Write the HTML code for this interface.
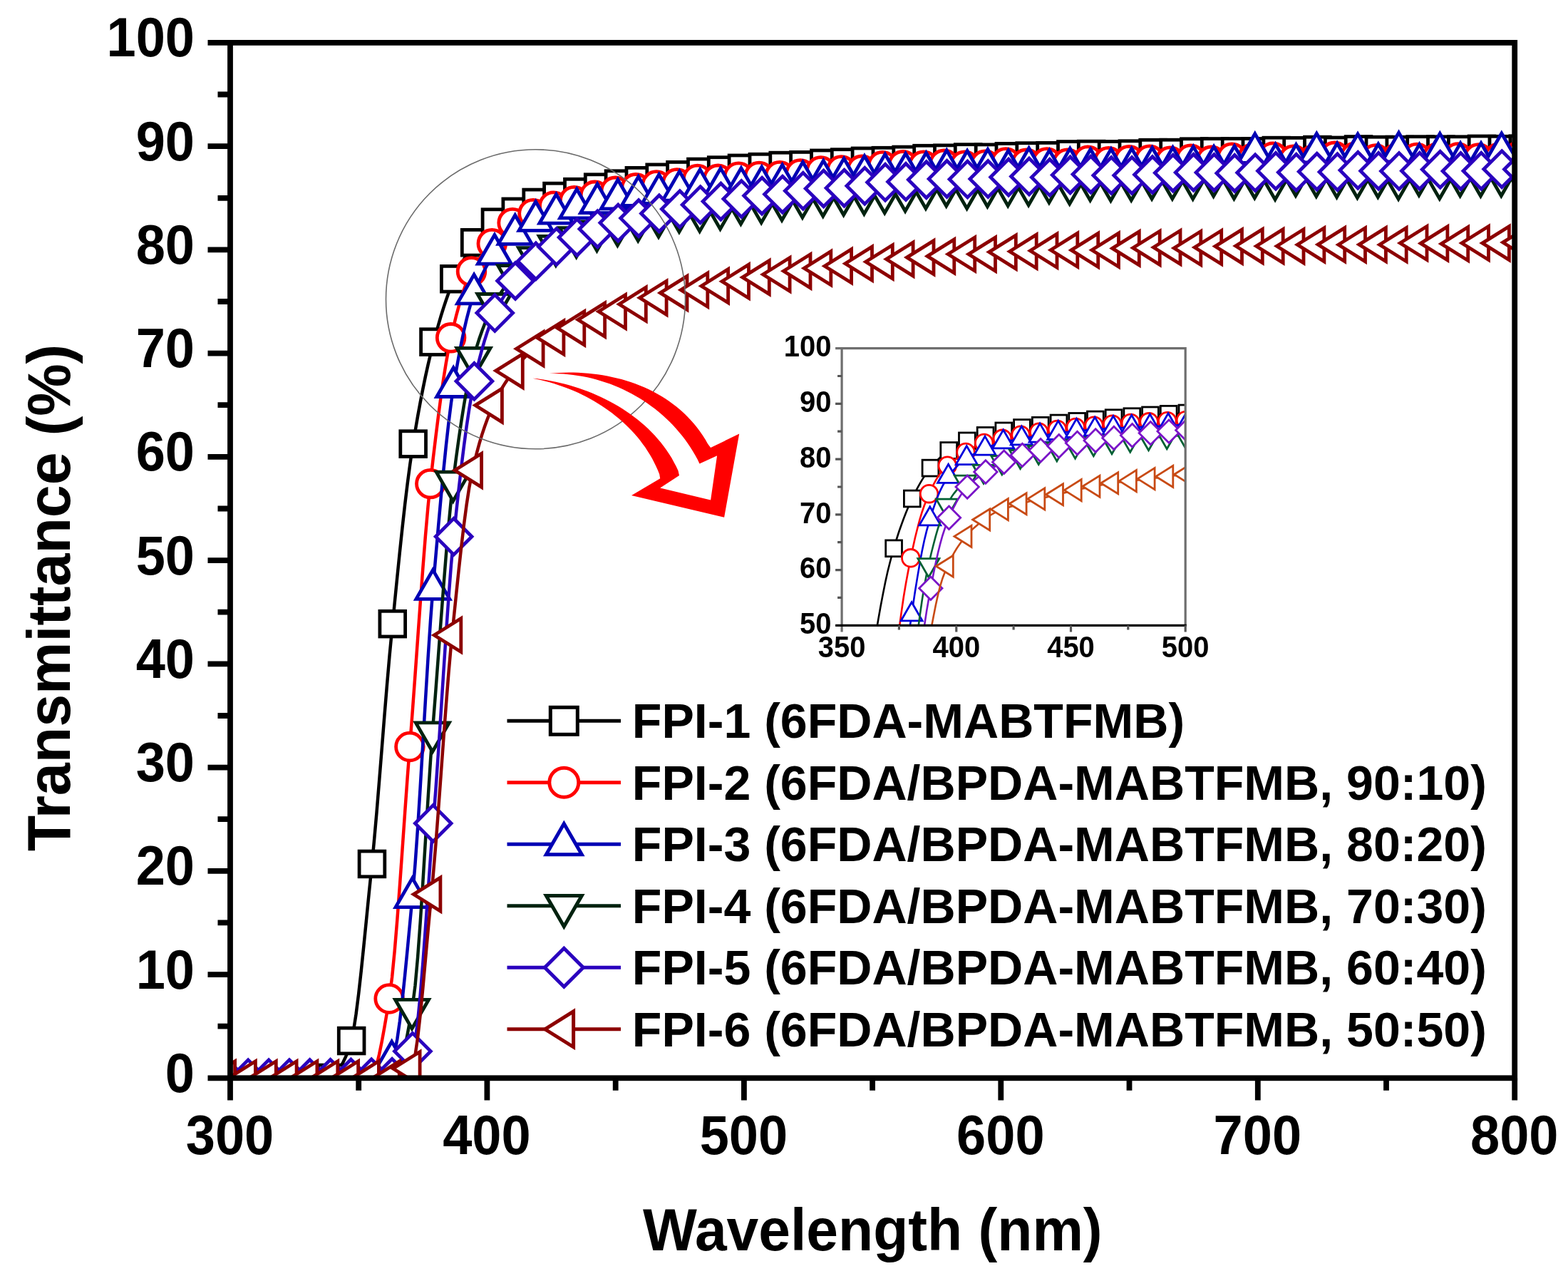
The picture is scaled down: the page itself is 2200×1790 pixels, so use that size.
<!DOCTYPE html>
<html><head><meta charset="utf-8"><title>Transmittance spectra</title>
<style>html,body{margin:0;padding:0;background:#fff;}body{width:2200px;height:1790px;overflow:hidden;}svg{display:block;}</style>
</head><body>
<svg width="2200" height="1790" viewBox="0 0 2200 1790">
<rect width="2200" height="1790" fill="#ffffff"/>
<defs>
<clipPath id="cm"><rect x="323" y="59.9" width="1802.2" height="1452.4"/></clipPath>
<clipPath id="ci"><rect x="1181.1" y="488.6" width="482.1" height="388.7"/></clipPath>
</defs>
<g clip-path="url(#cm)" stroke-linejoin="miter" stroke-miterlimit="10">
<polyline fill="none" stroke="#000000" stroke-width="4.5" points="323,1519.6 326.6,1519.6 330.2,1519.6 333.8,1519.6 337.4,1519.6 341,1519.6 344.6,1519.6 348.2,1519.6 351.8,1519.6 355.4,1519.6 359,1519.6 362.6,1519.6 366.3,1519.6 369.9,1519.6 373.5,1519.6 377.1,1519.6 380.7,1519.6 384.3,1519.6 387.9,1519.6 391.5,1519.6 395.1,1519.6 398.7,1519.6 402.3,1519.6 405.9,1519.6 409.5,1519.6 413.1,1519.6 416.7,1519.6 420.3,1519.6 423.9,1519.6 427.5,1519.6 431.1,1519.6 434.7,1519.6 438.3,1519.4 441.9,1519 445.5,1518.4 449.2,1517.5 452.8,1516.5 456.4,1515.2 460,1513.8 463.6,1512.3 467.2,1510.1 470.8,1506.7 474.4,1502.2 478,1496.5 481.6,1489.8 485.2,1482.1 488.8,1473.4 492.4,1462.9 496,1445.8 499.6,1422.4 503.2,1394 506.8,1361.7 510.4,1326.8 514,1290.7 517.6,1254.4 521.2,1219.2 524.8,1181.3 528.5,1139.8 532.1,1095.8 535.7,1050.7 539.3,1005.5 542.9,961.7 546.5,920.3 550.1,882.6 553.7,845.9 557.3,809.6 560.9,774.2 564.5,740.3 568.1,708.1 571.7,678.3 575.3,651.2 578.9,627.2 582.5,605 586.1,584 589.7,564.3 593.3,545.8 596.9,528.3 600.5,512 604.1,496.7 607.7,482.4 611.4,468.9 615,456 618.6,443.7 622.2,432.2 625.8,421.2 629.4,411 633,401.6 636.6,392.9 640.2,384.9 643.8,377.3 647.4,370.2 651,363.5 654.6,357.2 658.2,351.4 661.8,346 665.4,341.1 669,336.6 672.6,332.4 676.2,328.4 679.8,324.6 683.4,321.1 687,317.8 690.6,314.8 694.3,312.2 697.9,309.8 701.5,307.6 705.1,305.6 708.7,303.8 712.3,302.1 715.9,300.4 719.5,298.8 723.1,297.2 726.7,295.4 730.3,293.7 733.9,292 737.5,290.3 741.1,288.7 744.7,287.1 748.3,285.6 751.9,284.2 755.5,282.9 759.1,281.7 762.7,280.5 766.3,279.3 769.9,278.2 773.5,277.1 777.2,276.1 780.8,275.2 784.4,274.3 788,273.5 791.6,272.8 795.2,272.1 798.8,271.4 802.4,270.7 806,270 809.6,269.3 813.2,268.5 816.8,267.7 820.4,266.8 824,266 827.6,265.2 831.2,264.3 834.8,263.5 838.4,262.8 842,262.1 845.6,261.4 849.2,260.8 852.8,260.2 856.5,259.5 860.1,258.9 863.7,258.4 867.3,257.8 870.9,257.2 874.5,256.6 878.1,256.1 881.7,255.5 885.3,255 888.9,254.4 892.5,253.9 896.1,253.3 899.7,252.8 903.3,252.2 906.9,251.6 910.5,251 914.1,250.4 917.7,249.9 921.3,249.3 924.9,248.8 928.5,248.3 932.1,247.8 954.5,245.3 983.3,240.9 1012.2,238.6 1041,235.8 1069.8,234.1 1098.7,232 1127.5,231.2 1156.3,228.8 1185.2,227.5 1214,225.9 1242.8,225.2 1271.7,224 1300.5,222.2 1329.3,221.8 1358.2,220.6 1387,220.8 1415.9,219.3 1444.7,218.5 1473.5,218.3 1502.4,216.5 1531.2,216.1 1560,216.4 1588.9,215.7 1617.7,214.2 1646.5,214.1 1675.4,212.6 1704.2,212.5 1733,212.4 1761.9,212.4 1790.7,211.1 1819.5,211.2 1848.4,210 1877.2,210.9 1906.1,209.4 1934.9,210 1963.7,210.1 1992.6,209.6 2021.4,209.7 2050.2,209.6 2079.1,208.9 2107.9,209.2 2125.2,208.1 2136.7,208.6"/>
<g fill="#ffffff" stroke="#000000" stroke-width="4.8">
<rect x="302.3" y="1501.7" width="35.7" height="35.7"/>
<rect x="331.1" y="1501.7" width="35.7" height="35.7"/>
<rect x="359.9" y="1501.7" width="35.7" height="35.7"/>
<rect x="388.8" y="1501.7" width="35.7" height="35.7"/>
<rect x="417.6" y="1501.7" width="35.7" height="35.7"/>
<rect x="446.4" y="1494.1" width="35.7" height="35.7"/>
<rect x="475.3" y="1442.2" width="35.7" height="35.7"/>
<rect x="504.1" y="1194.1" width="35.7" height="35.7"/>
<rect x="532.9" y="857.3" width="35.7" height="35.7"/>
<rect x="561.8" y="604.8" width="35.7" height="35.7"/>
<rect x="590.6" y="461.8" width="35.7" height="35.7"/>
<rect x="619.4" y="373.4" width="35.7" height="35.7"/>
<rect x="648.3" y="322.4" width="35.7" height="35.7"/>
<rect x="677.1" y="293.8" width="35.7" height="35.7"/>
<rect x="705.9" y="279" width="35.7" height="35.7"/>
<rect x="734.8" y="266.1" width="35.7" height="35.7"/>
<rect x="763.6" y="257.2" width="35.7" height="35.7"/>
<rect x="792.5" y="251.3" width="35.7" height="35.7"/>
<rect x="821.3" y="244.8" width="35.7" height="35.7"/>
<rect x="850.1" y="239.8" width="35.7" height="35.7"/>
<rect x="879" y="235.4" width="35.7" height="35.7"/>
<rect x="907.8" y="230.9" width="35.7" height="35.7"/>
<rect x="936.6" y="227.4" width="35.7" height="35.7"/>
<rect x="965.5" y="223.1" width="35.7" height="35.7"/>
<rect x="994.3" y="220.7" width="35.7" height="35.7"/>
<rect x="1023.1" y="218" width="35.7" height="35.7"/>
<rect x="1052" y="216.3" width="35.7" height="35.7"/>
<rect x="1080.8" y="214.2" width="35.7" height="35.7"/>
<rect x="1109.6" y="213.4" width="35.7" height="35.7"/>
<rect x="1138.5" y="211" width="35.7" height="35.7"/>
<rect x="1167.3" y="209.7" width="35.7" height="35.7"/>
<rect x="1196.1" y="208" width="35.7" height="35.7"/>
<rect x="1225" y="207.3" width="35.7" height="35.7"/>
<rect x="1253.8" y="206.1" width="35.7" height="35.7"/>
<rect x="1282.7" y="204.3" width="35.7" height="35.7"/>
<rect x="1311.5" y="203.9" width="35.7" height="35.7"/>
<rect x="1340.3" y="202.7" width="35.7" height="35.7"/>
<rect x="1369.2" y="202.9" width="35.7" height="35.7"/>
<rect x="1398" y="201.4" width="35.7" height="35.7"/>
<rect x="1426.8" y="200.7" width="35.7" height="35.7"/>
<rect x="1455.7" y="200.4" width="35.7" height="35.7"/>
<rect x="1484.5" y="198.6" width="35.7" height="35.7"/>
<rect x="1513.3" y="198.2" width="35.7" height="35.7"/>
<rect x="1542.2" y="198.5" width="35.7" height="35.7"/>
<rect x="1571" y="197.8" width="35.7" height="35.7"/>
<rect x="1599.8" y="196.3" width="35.7" height="35.7"/>
<rect x="1628.7" y="196.2" width="35.7" height="35.7"/>
<rect x="1657.5" y="194.8" width="35.7" height="35.7"/>
<rect x="1686.3" y="194.6" width="35.7" height="35.7"/>
<rect x="1715.2" y="194.5" width="35.7" height="35.7"/>
<rect x="1744" y="194.5" width="35.7" height="35.7"/>
<rect x="1772.9" y="193.2" width="35.7" height="35.7"/>
<rect x="1801.7" y="193.4" width="35.7" height="35.7"/>
<rect x="1830.5" y="192.2" width="35.7" height="35.7"/>
<rect x="1859.4" y="193" width="35.7" height="35.7"/>
<rect x="1888.2" y="191.6" width="35.7" height="35.7"/>
<rect x="1917" y="192.2" width="35.7" height="35.7"/>
<rect x="1945.9" y="192.2" width="35.7" height="35.7"/>
<rect x="1974.7" y="191.7" width="35.7" height="35.7"/>
<rect x="2003.5" y="191.8" width="35.7" height="35.7"/>
<rect x="2032.4" y="191.8" width="35.7" height="35.7"/>
<rect x="2061.2" y="191" width="35.7" height="35.7"/>
<rect x="2090" y="191.3" width="35.7" height="35.7"/>
<rect x="2118.9" y="190.8" width="35.7" height="35.7"/>
</g>
<polyline fill="none" stroke="#ff0000" stroke-width="4.5" points="323,1519.6 326.6,1519.6 330.2,1519.6 333.8,1519.6 337.4,1519.6 341,1519.6 344.6,1519.6 348.2,1519.6 351.8,1519.6 355.4,1519.6 359,1519.6 362.6,1519.6 366.3,1519.6 369.9,1519.6 373.5,1519.6 377.1,1519.6 380.7,1519.6 384.3,1519.6 387.9,1519.6 391.5,1519.6 395.1,1519.6 398.7,1519.6 402.3,1519.6 405.9,1519.6 409.5,1519.6 413.1,1519.6 416.7,1519.6 420.3,1519.6 423.9,1519.6 427.5,1519.6 431.1,1519.6 434.7,1519.6 438.3,1519.6 441.9,1519.6 445.5,1519.6 449.2,1519.6 452.8,1519.6 456.4,1519.6 460,1519.6 463.6,1519.6 467.2,1519.6 470.8,1519.6 474.4,1519.6 478,1519.6 481.6,1519.6 485.2,1519.6 488.8,1519.6 492.4,1519.5 496,1519.4 499.6,1519.1 503.2,1518.8 506.8,1518.4 510.4,1517.9 514,1517.3 517.6,1516.7 521.2,1513.5 524.8,1505.7 528.5,1494 532.1,1479 535.7,1461.4 539.3,1441.7 542.9,1420.7 546.5,1398.8 550.1,1370.7 553.7,1334 557.3,1290.6 560.9,1242.5 564.5,1191.7 568.1,1140.2 571.7,1090 575.3,1043 578.9,995.9 582.5,946.5 586.1,896 589.7,845.9 593.3,797.5 596.9,752 600.5,710.9 604.1,675.3 607.7,643.2 611.4,612.6 615,583.7 618.6,556.7 622.2,531.8 625.8,509.3 629.4,489.4 633,472.2 636.6,456.9 640.2,442.5 643.8,429.3 647.4,417.1 651,406.1 654.6,396.2 658.2,387.6 661.8,380.2 665.4,373.8 669,368 672.6,362.8 676.2,358.1 679.8,353.7 683.4,349.5 687,345.4 690.6,341.2 694.3,337 697.9,332.9 701.5,328.8 705.1,324.8 708.7,321.1 712.3,317.8 715.9,314.8 719.5,312.4 723.1,310.3 726.7,308.4 730.3,306.7 733.9,305.1 737.5,303.6 741.1,302.2 744.7,300.8 748.3,299.5 751.9,298.1 755.5,296.7 759.1,295.3 762.7,294 766.3,292.7 769.9,291.4 773.5,290.2 777.2,289 780.8,287.9 784.4,286.9 788,285.9 791.6,285 795.2,284.1 798.8,283.3 802.4,282.4 806,281.6 809.6,280.7 813.2,279.7 816.8,278.8 820.4,277.9 824,276.9 827.6,276 831.2,275.1 834.8,274.2 838.4,273.4 842,272.6 845.6,271.8 849.2,271.1 852.8,270.3 856.5,269.6 860.1,268.9 863.7,268.2 867.3,267.6 870.9,267 874.5,266.4 878.1,265.8 881.7,265.3 885.3,264.7 888.9,264.2 892.5,263.7 896.1,263.2 899.7,262.8 903.3,262.3 906.9,261.8 910.5,261.4 914.1,260.9 917.7,260.4 921.3,260 924.9,259.5 928.5,259.1 932.1,258.6 949.8,256.9 978.6,251.5 1007.5,251.3 1036.3,248.1 1065.1,247.4 1094,246.6 1122.8,243.9 1151.7,239.9 1180.5,239 1209.3,238.3 1238.2,232.7 1267,231.8 1295.8,232.1 1324.7,230.3 1353.5,232.1 1382.3,231.1 1411.2,228 1440,229.3 1468.8,227.9 1497.7,229.1 1526.5,225.1 1555.3,226.6 1584.2,224.6 1613,224.2 1641.8,226.2 1670.7,223.2 1699.5,225.3 1728.4,221.1 1757.2,222.1 1786,220.2 1814.9,224.1 1843.7,223.7 1872.5,219.3 1901.4,220.3 1930.2,222.9 1959,222.5 1987.9,221.4 2016.7,221.1 2045.5,221 2074.4,221.9 2103.2,221.3 2125.2,218 2132,218.5"/>
<g fill="#ffffff" stroke="#ff0000" stroke-width="4.8">
<circle cx="315.4" cy="1519.6" r="19.3"/>
<circle cx="344.3" cy="1519.6" r="19.3"/>
<circle cx="373.1" cy="1519.6" r="19.3"/>
<circle cx="401.9" cy="1519.6" r="19.3"/>
<circle cx="430.8" cy="1519.6" r="19.3"/>
<circle cx="459.6" cy="1519.6" r="19.3"/>
<circle cx="488.4" cy="1519.6" r="19.3"/>
<circle cx="517.3" cy="1516.7" r="19.3"/>
<circle cx="546.1" cy="1401" r="19.3"/>
<circle cx="574.9" cy="1047.5" r="19.3"/>
<circle cx="603.8" cy="678.6" r="19.3"/>
<circle cx="632.6" cy="473.8" r="19.3"/>
<circle cx="661.5" cy="380.9" r="19.3"/>
<circle cx="690.3" cy="341.7" r="19.3"/>
<circle cx="719.1" cy="312.6" r="19.3"/>
<circle cx="748" cy="299.6" r="19.3"/>
<circle cx="776.8" cy="289.1" r="19.3"/>
<circle cx="805.6" cy="281.6" r="19.3"/>
<circle cx="834.5" cy="274.3" r="19.3"/>
<circle cx="863.3" cy="268.3" r="19.3"/>
<circle cx="892.1" cy="263.8" r="19.3"/>
<circle cx="921" cy="260" r="19.3"/>
<circle cx="949.8" cy="256.9" r="19.3"/>
<circle cx="978.6" cy="251.5" r="19.3"/>
<circle cx="1007.5" cy="251.3" r="19.3"/>
<circle cx="1036.3" cy="248.1" r="19.3"/>
<circle cx="1065.1" cy="247.4" r="19.3"/>
<circle cx="1094" cy="246.6" r="19.3"/>
<circle cx="1122.8" cy="243.9" r="19.3"/>
<circle cx="1151.7" cy="239.9" r="19.3"/>
<circle cx="1180.5" cy="239" r="19.3"/>
<circle cx="1209.3" cy="238.3" r="19.3"/>
<circle cx="1238.2" cy="232.7" r="19.3"/>
<circle cx="1267" cy="231.8" r="19.3"/>
<circle cx="1295.8" cy="232.1" r="19.3"/>
<circle cx="1324.7" cy="230.3" r="19.3"/>
<circle cx="1353.5" cy="232.1" r="19.3"/>
<circle cx="1382.3" cy="231.1" r="19.3"/>
<circle cx="1411.2" cy="228" r="19.3"/>
<circle cx="1440" cy="229.3" r="19.3"/>
<circle cx="1468.8" cy="227.9" r="19.3"/>
<circle cx="1497.7" cy="229.1" r="19.3"/>
<circle cx="1526.5" cy="225.1" r="19.3"/>
<circle cx="1555.3" cy="226.6" r="19.3"/>
<circle cx="1584.2" cy="224.6" r="19.3"/>
<circle cx="1613" cy="224.2" r="19.3"/>
<circle cx="1641.8" cy="226.2" r="19.3"/>
<circle cx="1670.7" cy="223.2" r="19.3"/>
<circle cx="1699.5" cy="225.3" r="19.3"/>
<circle cx="1728.4" cy="221.1" r="19.3"/>
<circle cx="1757.2" cy="222.1" r="19.3"/>
<circle cx="1786" cy="220.2" r="19.3"/>
<circle cx="1814.9" cy="224.1" r="19.3"/>
<circle cx="1843.7" cy="223.7" r="19.3"/>
<circle cx="1872.5" cy="219.3" r="19.3"/>
<circle cx="1901.4" cy="220.3" r="19.3"/>
<circle cx="1930.2" cy="222.9" r="19.3"/>
<circle cx="1959" cy="222.5" r="19.3"/>
<circle cx="1987.9" cy="221.4" r="19.3"/>
<circle cx="2016.7" cy="221.1" r="19.3"/>
<circle cx="2045.5" cy="221" r="19.3"/>
<circle cx="2074.4" cy="221.9" r="19.3"/>
<circle cx="2103.2" cy="221.3" r="19.3"/>
<circle cx="2132" cy="218.5" r="19.3"/>
</g>
<polyline fill="none" stroke="#0000b4" stroke-width="4.5" points="323,1519.6 326.6,1519.6 330.2,1519.6 333.8,1519.6 337.4,1519.6 341,1519.6 344.6,1519.6 348.2,1519.6 351.8,1519.5 355.4,1519.5 359,1519.5 362.6,1519.5 366.3,1519.5 369.9,1519.5 373.5,1519.5 377.1,1519.5 380.7,1519.5 384.3,1519.5 387.9,1519.5 391.5,1519.5 395.1,1519.4 398.7,1519.4 402.3,1519.4 405.9,1519.4 409.5,1519.4 413.1,1519.4 416.7,1519.3 420.3,1519.3 423.9,1519.3 427.5,1519.3 431.1,1519.3 434.7,1519.2 438.3,1519.2 441.9,1519.2 445.5,1519.1 449.2,1519.1 452.8,1519.1 456.4,1519 460,1519 463.6,1519 467.2,1518.9 470.8,1518.9 474.4,1518.8 478,1518.8 481.6,1518.7 485.2,1518.7 488.8,1518.7 492.4,1518.6 496,1518.5 499.6,1518.5 503.2,1518.4 506.8,1518.4 510.4,1518.3 514,1518.2 517.6,1518.2 521.2,1518.1 524.8,1517.5 528.5,1515.8 532.1,1513.1 535.7,1509.5 539.3,1505.1 542.9,1499.9 546.5,1494.1 550.1,1487.6 553.7,1476.6 557.3,1457.9 560.9,1432.8 564.5,1402.5 568.1,1368.3 571.7,1331.5 575.3,1293.4 578.9,1255.2 582.5,1212.4 586.1,1161.1 589.7,1104 593.3,1043.7 596.9,982.8 600.5,923.9 604.1,869.5 607.7,822.4 611.4,780.1 615,738.7 618.6,698.8 622.2,661 625.8,625.8 629.4,593.6 633,565 636.6,540.6 640.2,519.2 643.8,499.2 647.4,480.6 651,463.5 654.6,448 658.2,434.1 661.8,421.9 665.4,411.4 669,402.1 672.6,393.6 676.2,385.8 679.8,378.7 683.4,372.2 687,366.4 690.6,361 694.3,356.2 697.9,351.8 701.5,347.8 705.1,344 708.7,340.6 712.3,337.4 715.9,334.3 719.5,331.4 723.1,328.6 726.7,325.8 730.3,323.1 733.9,320.5 737.5,318 741.1,315.7 744.7,313.5 748.3,311.5 751.9,309.7 755.5,308.1 759.1,306.7 762.7,305.3 766.3,304 769.9,302.8 773.5,301.7 777.2,300.6 780.8,299.5 784.4,298.5 788,297.6 791.6,296.6 795.2,295.8 798.8,294.9 802.4,294 806,293.2 809.6,292.3 813.2,291.4 816.8,290.4 820.4,289.5 824,288.6 827.6,287.6 831.2,286.7 834.8,285.9 838.4,285 842,284.2 845.6,283.4 849.2,282.7 852.8,281.9 856.5,281.2 860.1,280.5 863.7,279.9 867.3,279.2 870.9,278.6 874.5,278 878.1,277.4 881.7,276.8 885.3,276.3 888.9,275.8 892.5,275.3 896.1,274.9 899.7,274.4 903.3,274 906.9,273.6 910.5,273.2 914.1,272.8 917.7,272.5 921.3,272.1 924.9,271.8 928.5,271.4 932.1,271.1 953.4,267.6 982.2,264.8 1011.1,263.3 1039.9,262.9 1068.8,261.3 1097.6,258.4 1126.4,254.4 1155.3,252.5 1184.1,249.4 1212.9,245.9 1241.8,243.3 1270.6,242.4 1299.4,241.4 1328.3,238 1357.1,238.6 1385.9,236.6 1414.8,238.2 1443.6,234.9 1472.4,237.8 1501.3,235.5 1530.1,236.5 1558.9,236.1 1587.8,235.4 1616.6,234.1 1645.5,233.9 1674.3,232.8 1703.1,232.6 1732,231.8 1760.8,214.7 1789.6,229.5 1818.5,229.8 1847.3,214.4 1876.1,228.1 1905,215.2 1933.8,229.1 1962.6,213.2 1991.5,229.8 2020.3,214.6 2049.1,228 2078,227.8 2106.8,214.2 2125.2,227.2 2135.7,228.4"/>
<g fill="#ffffff" stroke="#0000b4" stroke-width="4.8">
<polygon points="319,1492.4 342.5,1533.1 295.5,1533.1"/>
<polygon points="347.9,1492.4 371.4,1533.1 324.4,1533.1"/>
<polygon points="376.7,1492.4 400.2,1533.1 353.2,1533.1"/>
<polygon points="405.5,1492.3 429,1533 382,1533"/>
<polygon points="434.4,1492.1 457.9,1532.8 410.9,1532.8"/>
<polygon points="463.2,1491.8 486.7,1532.5 439.7,1532.5"/>
<polygon points="492,1491.5 515.5,1532.2 468.5,1532.2"/>
<polygon points="520.9,1491 544.4,1531.7 497.4,1531.7"/>
<polygon points="549.7,1461.1 573.2,1501.8 526.2,1501.8"/>
<polygon points="578.6,1231.9 602.1,1272.6 555.1,1272.6"/>
<polygon points="607.4,799.6 630.9,840.3 583.9,840.3"/>
<polygon points="636.2,515.7 659.7,556.5 612.7,556.5"/>
<polygon points="665.1,385.2 688.6,425.9 641.6,425.9"/>
<polygon points="693.9,329.5 717.4,370.2 670.4,370.2"/>
<polygon points="722.7,301.7 746.2,342.4 699.2,342.4"/>
<polygon points="751.6,282.7 775.1,323.4 728.1,323.4"/>
<polygon points="780.4,272.5 803.9,313.2 756.9,313.2"/>
<polygon points="809.2,265.2 832.7,305.9 785.7,305.9"/>
<polygon points="838.1,258 861.6,298.7 814.6,298.7"/>
<polygon points="866.9,252.1 890.4,292.8 843.4,292.8"/>
<polygon points="895.7,247.8 919.2,288.5 872.2,288.5"/>
<polygon points="924.6,244.7 948.1,285.4 901.1,285.4"/>
<polygon points="953.4,240.4 976.9,281.1 929.9,281.1"/>
<polygon points="982.2,237.7 1005.7,278.4 958.7,278.4"/>
<polygon points="1011.1,236.1 1034.6,276.8 987.6,276.8"/>
<polygon points="1039.9,235.7 1063.4,276.4 1016.4,276.4"/>
<polygon points="1068.8,234.1 1092.3,274.8 1045.3,274.8"/>
<polygon points="1097.6,231.2 1121.1,271.9 1074.1,271.9"/>
<polygon points="1126.4,227.3 1149.9,268 1102.9,268"/>
<polygon points="1155.3,225.4 1178.8,266.1 1131.8,266.1"/>
<polygon points="1184.1,222.2 1207.6,262.9 1160.6,262.9"/>
<polygon points="1212.9,218.8 1236.4,259.5 1189.4,259.5"/>
<polygon points="1241.8,216.2 1265.3,256.9 1218.3,256.9"/>
<polygon points="1270.6,215.3 1294.1,256 1247.1,256"/>
<polygon points="1299.4,214.2 1322.9,254.9 1275.9,254.9"/>
<polygon points="1328.3,210.9 1351.8,251.6 1304.8,251.6"/>
<polygon points="1357.1,211.5 1380.6,252.2 1333.6,252.2"/>
<polygon points="1385.9,209.5 1409.4,250.2 1362.4,250.2"/>
<polygon points="1414.8,211 1438.3,251.7 1391.3,251.7"/>
<polygon points="1443.6,207.8 1467.1,248.5 1420.1,248.5"/>
<polygon points="1472.4,210.7 1495.9,251.4 1448.9,251.4"/>
<polygon points="1501.3,208.3 1524.8,249 1477.8,249"/>
<polygon points="1530.1,209.3 1553.6,250 1506.6,250"/>
<polygon points="1558.9,209 1582.4,249.7 1535.4,249.7"/>
<polygon points="1587.8,208.2 1611.3,248.9 1564.3,248.9"/>
<polygon points="1616.6,207 1640.1,247.7 1593.1,247.7"/>
<polygon points="1645.5,206.7 1669,247.5 1622,247.5"/>
<polygon points="1674.3,205.6 1697.8,246.4 1650.8,246.4"/>
<polygon points="1703.1,205.5 1726.6,246.2 1679.6,246.2"/>
<polygon points="1732,204.7 1755.5,245.4 1708.5,245.4"/>
<polygon points="1760.8,187.6 1784.3,228.3 1737.3,228.3"/>
<polygon points="1789.6,202.4 1813.1,243.1 1766.1,243.1"/>
<polygon points="1818.5,202.7 1842,243.4 1795,243.4"/>
<polygon points="1847.3,187.2 1870.8,227.9 1823.8,227.9"/>
<polygon points="1876.1,201 1899.6,241.7 1852.6,241.7"/>
<polygon points="1905,188 1928.5,228.7 1881.5,228.7"/>
<polygon points="1933.8,202 1957.3,242.7 1910.3,242.7"/>
<polygon points="1962.6,186.1 1986.1,226.8 1939.1,226.8"/>
<polygon points="1991.5,202.6 2015,243.3 1968,243.3"/>
<polygon points="2020.3,187.4 2043.8,228.1 1996.8,228.1"/>
<polygon points="2049.1,200.9 2072.6,241.6 2025.6,241.6"/>
<polygon points="2078,200.7 2101.5,241.4 2054.5,241.4"/>
<polygon points="2106.8,187 2130.3,227.7 2083.3,227.7"/>
<polygon points="2135.7,201.2 2159.2,241.9 2112.2,241.9"/>
</g>
<polyline fill="none" stroke="#00220f" stroke-width="4.5" points="323,1518.1 326.6,1518.1 330.2,1518.1 333.8,1518.1 337.4,1518.1 341,1518.1 344.6,1518.1 348.2,1518.1 351.8,1518.1 355.4,1518.1 359,1518.1 362.6,1518.1 366.3,1518.1 369.9,1518.1 373.5,1518.1 377.1,1518.1 380.7,1518.1 384.3,1518.1 387.9,1518 391.5,1518 395.1,1518 398.7,1518 402.3,1518 405.9,1518 409.5,1518 413.1,1518 416.7,1518 420.3,1517.9 423.9,1517.9 427.5,1517.9 431.1,1517.9 434.7,1517.9 438.3,1517.9 441.9,1517.8 445.5,1517.8 449.2,1517.8 452.8,1517.8 456.4,1517.8 460,1517.7 463.6,1517.7 467.2,1517.7 470.8,1517.6 474.4,1517.6 478,1517.6 481.6,1517.5 485.2,1517.5 488.8,1517.5 492.4,1517.4 496,1517.4 499.6,1517.4 503.2,1517.3 506.8,1517.3 510.4,1517.2 514,1517.2 517.6,1517.1 521.2,1517.1 524.8,1517 528.5,1517 532.1,1516.9 535.7,1516.9 539.3,1516.8 542.9,1516.8 546.5,1516.7 550.1,1516.7 553.7,1514.3 557.3,1507.9 560.9,1497.7 564.5,1484.5 568.1,1468.6 571.7,1450.7 575.3,1431.2 578.9,1410.6 582.5,1382.7 586.1,1342.7 589.7,1293.6 593.3,1238.4 596.9,1180 600.5,1121.4 604.1,1065.6 607.7,1015.6 611.4,968.4 615,920.1 618.6,871.7 622.2,824.3 625.8,779.2 629.4,737.5 633,700.2 636.6,668.5 640.2,640.7 643.8,614.7 647.4,590.3 651,567.9 654.6,547.4 658.2,528.9 661.8,512.6 665.4,498.5 669,486.2 672.6,474.8 676.2,464.5 679.8,455 683.4,446.3 687,438.4 690.6,431.1 694.3,424.5 697.9,418.3 701.5,412.5 705.1,407.2 708.7,402.2 712.3,397.6 715.9,393.2 719.5,389.1 723.1,385.2 726.7,381.5 730.3,378 733.9,374.7 737.5,371.5 741.1,368.5 744.7,365.7 748.3,363.1 751.9,360.5 755.5,358.2 759.1,356 762.7,353.8 766.3,351.8 769.9,349.9 773.5,348 777.2,346.3 780.8,344.6 784.4,342.9 788,341.3 791.6,339.8 795.2,338.3 798.8,336.9 802.4,335.5 806,334.2 809.6,333 813.2,331.7 816.8,330.6 820.4,329.4 824,328.3 827.6,327.3 831.2,326.2 834.8,325.2 838.4,324.2 842,323.3 845.6,322.3 849.2,321.4 852.8,320.5 856.5,319.6 860.1,318.7 863.7,317.8 867.3,317 870.9,316.1 874.5,315.3 878.1,314.4 881.7,313.6 885.3,312.7 888.9,311.9 892.5,311.2 896.1,310.4 899.7,309.7 903.3,309 906.9,308.3 910.5,307.7 914.1,307 917.7,306.3 921.3,305.7 924.9,305 928.5,304.3 932.1,303.7 952.9,298 981.7,297.3 1010.5,294 1039.4,287.1 1068.2,285.3 1097,281.9 1125.9,278 1154.7,276.2 1183.6,274.3 1212.4,272.9 1241.2,271.6 1270.1,269 1298.9,265.3 1327.7,261.9 1356.6,265.4 1385.4,262.5 1414.2,261.5 1443.1,260.6 1471.9,257.1 1500.7,258.9 1529.6,253.9 1558.4,254.3 1587.2,253.8 1616.1,251.9 1644.9,251.8 1673.7,252 1702.6,248.2 1731.4,251.6 1760.3,250.7 1789.1,252.8 1817.9,247.4 1846.8,248.3 1875.6,249.4 1904.4,250.4 1933.3,249.3 1962.1,251.9 1990.9,246.9 2019.8,251.5 2048.6,247.5 2077.4,247.9 2106.3,247.6 2125.2,249.2 2135.1,248"/>
<g fill="#ffffff" stroke="#00220f" stroke-width="4.8">
<polygon points="318.5,1545.2 342,1504.5 295,1504.5"/>
<polygon points="347.3,1545.2 370.8,1504.5 323.8,1504.5"/>
<polygon points="376.2,1545.2 399.7,1504.5 352.7,1504.5"/>
<polygon points="405,1545.1 428.5,1504.4 381.5,1504.4"/>
<polygon points="433.8,1545 457.3,1504.3 410.3,1504.3"/>
<polygon points="462.7,1544.8 486.2,1504.1 439.2,1504.1"/>
<polygon points="491.5,1544.6 515,1503.9 468,1503.9"/>
<polygon points="520.3,1544.2 543.8,1503.5 496.8,1503.5"/>
<polygon points="549.2,1543.8 572.7,1503.1 525.7,1503.1"/>
<polygon points="578,1443 601.5,1402.3 554.5,1402.3"/>
<polygon points="606.8,1054.5 630.3,1013.8 583.3,1013.8"/>
<polygon points="635.7,702.9 659.2,662.2 612.2,662.2"/>
<polygon points="664.5,529 688,488.3 641,488.3"/>
<polygon points="693.4,453.2 716.9,412.5 669.9,412.5"/>
<polygon points="722.2,413.3 745.7,372.6 698.7,372.6"/>
<polygon points="751,388.3 774.5,347.6 727.5,347.6"/>
<polygon points="779.9,372.1 803.4,331.4 756.4,331.4"/>
<polygon points="808.7,360.4 832.2,319.7 785.2,319.7"/>
<polygon points="837.5,351.6 861,310.9 814,310.9"/>
<polygon points="866.4,344.3 889.9,303.6 842.9,303.6"/>
<polygon points="895.2,337.8 918.7,297.1 871.7,297.1"/>
<polygon points="924,332.3 947.5,291.6 900.5,291.6"/>
<polygon points="952.9,325.2 976.4,284.5 929.4,284.5"/>
<polygon points="981.7,324.4 1005.2,283.7 958.2,283.7"/>
<polygon points="1010.5,321.2 1034,280.5 987,280.5"/>
<polygon points="1039.4,314.3 1062.9,273.6 1015.9,273.6"/>
<polygon points="1068.2,312.4 1091.7,271.7 1044.7,271.7"/>
<polygon points="1097,309 1120.5,268.3 1073.5,268.3"/>
<polygon points="1125.9,305.1 1149.4,264.4 1102.4,264.4"/>
<polygon points="1154.7,303.3 1178.2,262.6 1131.2,262.6"/>
<polygon points="1183.6,301.5 1207.1,260.8 1160.1,260.8"/>
<polygon points="1212.4,300.1 1235.9,259.4 1188.9,259.4"/>
<polygon points="1241.2,298.7 1264.7,258 1217.7,258"/>
<polygon points="1270.1,296.1 1293.6,255.4 1246.6,255.4"/>
<polygon points="1298.9,292.5 1322.4,251.8 1275.4,251.8"/>
<polygon points="1327.7,289 1351.2,248.3 1304.2,248.3"/>
<polygon points="1356.6,292.5 1380.1,251.8 1333.1,251.8"/>
<polygon points="1385.4,289.7 1408.9,249 1361.9,249"/>
<polygon points="1414.2,288.6 1437.7,247.9 1390.7,247.9"/>
<polygon points="1443.1,287.7 1466.6,247 1419.6,247"/>
<polygon points="1471.9,284.3 1495.4,243.6 1448.4,243.6"/>
<polygon points="1500.7,286 1524.2,245.3 1477.2,245.3"/>
<polygon points="1529.6,281 1553.1,240.3 1506.1,240.3"/>
<polygon points="1558.4,281.5 1581.9,240.8 1534.9,240.8"/>
<polygon points="1587.2,281 1610.7,240.3 1563.7,240.3"/>
<polygon points="1616.1,279 1639.6,238.3 1592.6,238.3"/>
<polygon points="1644.9,278.9 1668.4,238.2 1621.4,238.2"/>
<polygon points="1673.7,279.1 1697.2,238.4 1650.2,238.4"/>
<polygon points="1702.6,275.3 1726.1,234.6 1679.1,234.6"/>
<polygon points="1731.4,278.8 1754.9,238.1 1707.9,238.1"/>
<polygon points="1760.3,277.8 1783.8,237.1 1736.8,237.1"/>
<polygon points="1789.1,279.9 1812.6,239.2 1765.6,239.2"/>
<polygon points="1817.9,274.5 1841.4,233.8 1794.4,233.8"/>
<polygon points="1846.8,275.5 1870.3,234.8 1823.3,234.8"/>
<polygon points="1875.6,276.6 1899.1,235.9 1852.1,235.9"/>
<polygon points="1904.4,277.5 1927.9,236.8 1880.9,236.8"/>
<polygon points="1933.3,276.5 1956.8,235.8 1909.8,235.8"/>
<polygon points="1962.1,279.1 1985.6,238.4 1938.6,238.4"/>
<polygon points="1990.9,274 2014.4,233.3 1967.4,233.3"/>
<polygon points="2019.8,278.7 2043.3,238 1996.3,238"/>
<polygon points="2048.6,274.7 2072.1,234 2025.1,234"/>
<polygon points="2077.4,275 2100.9,234.3 2053.9,234.3"/>
<polygon points="2106.3,274.7 2129.8,234 2082.8,234"/>
<polygon points="2135.1,275.1 2158.6,234.4 2111.6,234.4"/>
</g>
<polyline fill="none" stroke="#2a00be" stroke-width="4.5" points="323,1512.3 326.6,1512.3 330.2,1512.3 333.8,1512.3 337.4,1512.3 341,1512.3 344.6,1512.3 348.2,1512.3 351.8,1512.3 355.4,1512.3 359,1512.3 362.6,1512.3 366.3,1512.3 369.9,1512.3 373.5,1512.3 377.1,1512.3 380.7,1512.3 384.3,1512.2 387.9,1512.2 391.5,1512.2 395.1,1512.2 398.7,1512.2 402.3,1512.2 405.9,1512.2 409.5,1512.2 413.1,1512.2 416.7,1512.2 420.3,1512.1 423.9,1512.1 427.5,1512.1 431.1,1512.1 434.7,1512.1 438.3,1512 441.9,1512 445.5,1512 449.2,1512 452.8,1512 456.4,1511.9 460,1511.9 463.6,1511.9 467.2,1511.9 470.8,1511.8 474.4,1511.8 478,1511.8 481.6,1511.7 485.2,1511.7 488.8,1511.7 492.4,1511.6 496,1511.6 499.6,1511.6 503.2,1511.5 506.8,1511.5 510.4,1511.4 514,1511.4 517.6,1511.3 521.2,1511.3 524.8,1511.2 528.5,1511.2 532.1,1511.1 535.7,1511.1 539.3,1511 542.9,1511 546.5,1510.9 550.1,1510.8 553.7,1510.1 557.3,1508.2 560.9,1505.1 564.5,1500.9 568.1,1495.7 571.7,1489.5 575.3,1482.6 578.9,1474.8 582.5,1459.8 586.1,1432.5 589.7,1395.5 593.3,1351.4 596.9,1302.7 600.5,1252.1 604.1,1202 607.7,1155 611.4,1107.5 615,1055.3 618.6,1000.4 622.2,944.6 625.8,890.1 629.4,838.6 633,792.2 636.6,752.7 640.2,718.1 643.8,685.1 647.4,654.1 651,625.1 654.6,598.4 658.2,574.3 661.8,553.1 665.4,534.8 669,518.8 672.6,504 676.2,490.4 679.8,477.9 683.4,466.6 687,456.3 690.6,447.1 694.3,439 697.9,431.6 701.5,424.9 705.1,418.8 708.7,413.1 712.3,407.8 715.9,402.9 719.5,398.3 723.1,394 726.7,389.8 730.3,385.9 733.9,382.3 737.5,378.8 741.1,375.5 744.7,372.4 748.3,369.3 751.9,366.4 755.5,363.5 759.1,360.6 762.7,357.9 766.3,355.3 769.9,352.7 773.5,350.3 777.2,348.1 780.8,346 784.4,344.1 788,342.3 791.6,340.6 795.2,339 798.8,337.5 802.4,336 806,334.5 809.6,333 813.2,331.4 816.8,329.9 820.4,328.3 824,326.8 827.6,325.4 831.2,324 834.8,322.6 838.4,321.3 842,320.1 845.6,318.9 849.2,317.8 852.8,316.7 856.5,315.6 860.1,314.6 863.7,313.6 867.3,312.6 870.9,311.7 874.5,310.8 878.1,310 881.7,309.2 885.3,308.4 888.9,307.7 892.5,306.9 896.1,306.1 899.7,305.3 903.3,304.5 906.9,303.6 910.5,302.8 914.1,302 917.7,301.1 921.3,300.2 924.9,299.4 928.5,298.5 932.1,297.7 953.8,293.2 982.6,287.2 1011.4,282.6 1040.3,279 1069.1,274.6 1097.9,272.6 1126.8,267.8 1155.6,264.5 1184.5,263.7 1213.3,260.8 1242.1,255.8 1271,254.9 1299.8,252.1 1328.6,250.9 1357.5,251.5 1386.3,251.1 1415.1,248.6 1444,247.5 1472.8,248.8 1501.6,245.4 1530.5,244.6 1559.3,246 1588.1,246 1617,245 1645.8,242.6 1674.6,241.9 1703.5,241.9 1732.3,242.9 1761.2,242.3 1790,239.8 1818.8,241.8 1847.7,240.7 1876.5,241.3 1905.3,238.8 1934.2,239.8 1963,240 1991.8,239.7 2020.7,237.8 2049.5,240 2078.3,239.8 2107.2,237.2 2125.2,237.5 2136,237.6"/>
<g fill="#ffffff" stroke="#2a00be" stroke-width="4.8">
<polygon points="319.4,1486.9 344.8,1512.3 319.4,1537.7 294,1512.3"/>
<polygon points="348.2,1486.9 373.6,1512.3 348.2,1537.7 322.9,1512.3"/>
<polygon points="377.1,1486.9 402.4,1512.3 377.1,1537.6 351.7,1512.3"/>
<polygon points="405.9,1486.8 431.3,1512.2 405.9,1537.6 380.5,1512.2"/>
<polygon points="434.7,1486.7 460.1,1512.1 434.7,1537.4 409.4,1512.1"/>
<polygon points="463.6,1486.5 489,1511.9 463.6,1537.3 438.2,1511.9"/>
<polygon points="492.4,1486.2 517.8,1511.6 492.4,1537 467,1511.6"/>
<polygon points="521.2,1485.9 546.6,1511.3 521.2,1536.7 495.9,1511.3"/>
<polygon points="550.1,1485.5 575.5,1510.8 550.1,1536.2 524.7,1510.8"/>
<polygon points="578.9,1449.4 604.3,1474.8 578.9,1500.2 553.5,1474.8"/>
<polygon points="607.7,1129.6 633.1,1155 607.7,1180.4 582.4,1155"/>
<polygon points="636.6,727.3 662,752.7 636.6,778.1 611.2,752.7"/>
<polygon points="665.4,509.5 690.8,534.8 665.4,560.2 640,534.8"/>
<polygon points="694.3,413.6 719.6,439 694.3,464.4 668.9,439"/>
<polygon points="723.1,368.6 748.5,394 723.1,419.3 697.7,394"/>
<polygon points="751.9,341 777.3,366.4 751.9,391.7 726.5,366.4"/>
<polygon points="780.8,320.6 806.1,346 780.8,371.4 755.4,346"/>
<polygon points="809.6,307.6 835,333 809.6,358.3 784.2,333"/>
<polygon points="838.4,296 863.8,321.3 838.4,346.7 813,321.3"/>
<polygon points="867.3,287.2 892.6,312.6 867.3,338 841.9,312.6"/>
<polygon points="896.1,280.7 921.5,306.1 896.1,331.5 870.7,306.1"/>
<polygon points="924.9,274 950.3,299.4 924.9,324.8 899.6,299.4"/>
<polygon points="953.8,267.8 979.1,293.2 953.8,318.6 928.4,293.2"/>
<polygon points="982.6,261.8 1008,287.2 982.6,312.6 957.2,287.2"/>
<polygon points="1011.4,257.2 1036.8,282.6 1011.4,308 986.1,282.6"/>
<polygon points="1040.3,253.6 1065.7,279 1040.3,304.4 1014.9,279"/>
<polygon points="1069.1,249.3 1094.5,274.6 1069.1,300 1043.7,274.6"/>
<polygon points="1097.9,247.3 1123.3,272.6 1097.9,298 1072.6,272.6"/>
<polygon points="1126.8,242.4 1152.2,267.8 1126.8,293.2 1101.4,267.8"/>
<polygon points="1155.6,239.1 1181,264.5 1155.6,289.8 1130.2,264.5"/>
<polygon points="1184.5,238.3 1209.8,263.7 1184.5,289.1 1159.1,263.7"/>
<polygon points="1213.3,235.4 1238.7,260.8 1213.3,286.2 1187.9,260.8"/>
<polygon points="1242.1,230.4 1267.5,255.8 1242.1,281.2 1216.7,255.8"/>
<polygon points="1271,229.5 1296.3,254.9 1271,280.3 1245.6,254.9"/>
<polygon points="1299.8,226.7 1325.2,252.1 1299.8,277.5 1274.4,252.1"/>
<polygon points="1328.6,225.5 1354,250.9 1328.6,276.3 1303.2,250.9"/>
<polygon points="1357.5,226.1 1382.8,251.5 1357.5,276.9 1332.1,251.5"/>
<polygon points="1386.3,225.7 1411.7,251.1 1386.3,276.4 1360.9,251.1"/>
<polygon points="1415.1,223.2 1440.5,248.6 1415.1,274 1389.8,248.6"/>
<polygon points="1444,222.1 1469.3,247.5 1444,272.9 1418.6,247.5"/>
<polygon points="1472.8,223.5 1498.2,248.8 1472.8,274.2 1447.4,248.8"/>
<polygon points="1501.6,220 1527,245.4 1501.6,270.8 1476.3,245.4"/>
<polygon points="1530.5,219.2 1555.9,244.6 1530.5,270 1505.1,244.6"/>
<polygon points="1559.3,220.7 1584.7,246 1559.3,271.4 1533.9,246"/>
<polygon points="1588.1,220.6 1613.5,246 1588.1,271.4 1562.8,246"/>
<polygon points="1617,219.7 1642.4,245 1617,270.4 1591.6,245"/>
<polygon points="1645.8,217.3 1671.2,242.6 1645.8,268 1620.4,242.6"/>
<polygon points="1674.6,216.5 1700,241.9 1674.6,267.2 1649.3,241.9"/>
<polygon points="1703.5,216.6 1728.9,241.9 1703.5,267.3 1678.1,241.9"/>
<polygon points="1732.3,217.5 1757.7,242.9 1732.3,268.3 1706.9,242.9"/>
<polygon points="1761.2,216.9 1786.5,242.3 1761.2,267.7 1735.8,242.3"/>
<polygon points="1790,214.4 1815.4,239.8 1790,265.2 1764.6,239.8"/>
<polygon points="1818.8,216.4 1844.2,241.8 1818.8,267.2 1793.4,241.8"/>
<polygon points="1847.7,215.3 1873,240.7 1847.7,266 1822.3,240.7"/>
<polygon points="1876.5,215.9 1901.9,241.3 1876.5,266.6 1851.1,241.3"/>
<polygon points="1905.3,213.4 1930.7,238.8 1905.3,264.2 1880,238.8"/>
<polygon points="1934.2,214.4 1959.5,239.8 1934.2,265.2 1908.8,239.8"/>
<polygon points="1963,214.6 1988.4,240 1963,265.4 1937.6,240"/>
<polygon points="1991.8,214.3 2017.2,239.7 1991.8,265.1 1966.5,239.7"/>
<polygon points="2020.7,212.4 2046.1,237.8 2020.7,263.2 1995.3,237.8"/>
<polygon points="2049.5,214.6 2074.9,240 2049.5,265.4 2024.1,240"/>
<polygon points="2078.3,214.4 2103.7,239.8 2078.3,265.1 2053,239.8"/>
<polygon points="2107.2,211.8 2132.6,237.2 2107.2,262.6 2081.8,237.2"/>
<polygon points="2136,212.3 2161.4,237.6 2136,263 2110.6,237.6"/>
</g>
<polyline fill="none" stroke="#8c0000" stroke-width="4.5" points="323,1512.3 326.6,1512.3 330.2,1512.3 333.8,1512.3 337.4,1512.3 341,1512.3 344.6,1512.3 348.2,1512.3 351.8,1512.3 355.4,1512.3 359,1512.3 362.6,1512.3 366.3,1512.3 369.9,1512.3 373.5,1512.3 377.1,1512.3 380.7,1512.3 384.3,1512.3 387.9,1512.3 391.5,1512.3 395.1,1512.3 398.7,1512.3 402.3,1512.3 405.9,1512.3 409.5,1512.3 413.1,1512.3 416.7,1512.3 420.3,1512.3 423.9,1512.3 427.5,1512.3 431.1,1512.3 434.7,1512.3 438.3,1512.3 441.9,1512.3 445.5,1512.3 449.2,1512.3 452.8,1512.3 456.4,1512.3 460,1512.3 463.6,1512.3 467.2,1512.3 470.8,1512.3 474.4,1512.3 478,1512.3 481.6,1512.3 485.2,1512.3 488.8,1512.3 492.4,1512.3 496,1512.3 499.6,1512.3 503.2,1512.3 506.8,1512.3 510.4,1512.3 514,1512.3 517.6,1512.3 521.2,1512.3 524.8,1512.3 528.5,1512.3 532.1,1512.3 535.7,1512.3 539.3,1512.3 542.9,1512.3 546.5,1512.3 550.1,1512.2 553.7,1511.8 557.3,1510.9 560.9,1509.5 564.5,1507.8 568.1,1505.6 571.7,1503 575.3,1500.1 578.9,1495.3 582.5,1480.2 586.1,1455.5 589.7,1423.5 593.3,1386.5 596.9,1346.6 600.5,1306.2 604.1,1267.6 607.7,1228.6 611.4,1184.6 615,1137.2 618.6,1087.9 622.2,1038.4 625.8,990.1 629.4,944.8 633,903.9 636.6,867.9 640.2,832.7 643.8,798.4 647.4,765.8 651,735.5 654.6,708.3 658.2,684.7 661.8,665.6 665.4,649.6 669,635.1 672.6,621.9 676.2,609.9 679.8,599 683.4,589 687,579.9 690.6,571.5 694.3,563.6 697.9,556.3 701.5,549.5 705.1,543.2 708.7,537.4 712.3,531.9 715.9,526.7 719.5,521.7 723.1,517 726.7,512.4 730.3,508 733.9,503.8 737.5,499.9 741.1,496.2 744.7,493 748.3,490.1 751.9,487.5 755.5,485.2 759.1,483.1 762.7,481.2 766.3,479.3 769.9,477.6 773.5,475.8 777.2,474.1 780.8,472.4 784.4,470.6 788,468.9 791.6,467.2 795.2,465.6 798.8,464 802.4,462.4 806,460.9 809.6,459.3 813.2,457.8 816.8,456.3 820.4,454.9 824,453.4 827.6,452 831.2,450.6 834.8,449.1 838.4,447.7 842,446.2 845.6,444.7 849.2,443.3 852.8,441.8 856.5,440.3 860.1,438.9 863.7,437.4 867.3,436.1 870.9,434.7 874.5,433.4 878.1,432.1 881.7,430.8 885.3,429.5 888.9,428.3 892.5,427.1 896.1,425.9 899.7,424.7 903.3,423.6 906.9,422.4 910.5,421.3 914.1,420.2 917.7,419.1 921.3,418.1 924.9,417.2 928.5,416.3 932.1,415.5 951.4,410.9 980.3,406.7 1009.1,401.2 1037.9,394.7 1066.8,389.1 1095.6,385 1124.4,380.3 1153.3,376.2 1182.1,373.2 1210.9,369.7 1239.8,367.3 1268.6,363.6 1297.4,361.1 1326.3,359.4 1355.1,356.5 1384,356.6 1412.8,353.6 1441.6,352.7 1470.5,351.7 1499.3,350.7 1528.1,350.9 1557,350.7 1585.8,348.4 1614.6,347.8 1643.5,347 1672.3,348 1701.1,347 1730,345.6 1758.8,345.1 1787.6,345.2 1816.5,345.3 1845.3,343.3 1874.2,343.1 1903,343.3 1931.8,343.1 1960.7,343.2 1989.5,341 2018.3,341.4 2047.2,342 2076,341 2104.8,341.1 2125.2,340.9 2133.7,340.1"/>
<g fill="#ffffff" stroke="#8c0000" stroke-width="4.8">
<polygon points="292,1512.3 329.6,1488.8 329.6,1535.8"/>
<polygon points="320.8,1512.3 358.4,1488.8 358.4,1535.8"/>
<polygon points="349.7,1512.3 387.3,1488.8 387.3,1535.8"/>
<polygon points="378.5,1512.3 416.1,1488.8 416.1,1535.8"/>
<polygon points="407.3,1512.3 444.9,1488.8 444.9,1535.8"/>
<polygon points="436.2,1512.3 473.8,1488.8 473.8,1535.8"/>
<polygon points="465,1512.3 502.6,1488.8 502.6,1535.8"/>
<polygon points="493.8,1512.3 531.4,1488.8 531.4,1535.8"/>
<polygon points="522.7,1512.3 560.3,1488.8 560.3,1535.8"/>
<polygon points="551.5,1499 589.1,1475.5 589.1,1522.5"/>
<polygon points="580.3,1254.6 617.9,1231.1 617.9,1278.1"/>
<polygon points="609.2,891 646.8,867.5 646.8,914.5"/>
<polygon points="638,659.8 675.6,636.3 675.6,683.3"/>
<polygon points="666.8,568.6 704.4,545.1 704.4,592.1"/>
<polygon points="695.7,520.1 733.3,496.6 733.3,543.6"/>
<polygon points="724.5,489.2 762.1,465.7 762.1,512.7"/>
<polygon points="753.3,473.5 790.9,450 790.9,497"/>
<polygon points="782.2,460.3 819.8,436.8 819.8,483.8"/>
<polygon points="811,448.6 848.6,425.1 848.6,472.1"/>
<polygon points="839.9,437 877.5,413.5 877.5,460.5"/>
<polygon points="868.7,426.7 906.3,403.2 906.3,450.2"/>
<polygon points="897.5,417.8 935.1,394.3 935.1,441.3"/>
<polygon points="926.4,410.9 964,387.4 964,434.4"/>
<polygon points="955.2,406.7 992.8,383.2 992.8,430.2"/>
<polygon points="984,401.2 1021.6,377.7 1021.6,424.7"/>
<polygon points="1012.9,394.7 1050.5,371.2 1050.5,418.2"/>
<polygon points="1041.7,389.1 1079.3,365.6 1079.3,412.6"/>
<polygon points="1070.5,385 1108.1,361.5 1108.1,408.5"/>
<polygon points="1099.4,380.3 1137,356.8 1137,403.8"/>
<polygon points="1128.2,376.2 1165.8,352.7 1165.8,399.7"/>
<polygon points="1157,373.2 1194.6,349.7 1194.6,396.7"/>
<polygon points="1185.9,369.7 1223.5,346.2 1223.5,393.2"/>
<polygon points="1214.7,367.3 1252.3,343.8 1252.3,390.8"/>
<polygon points="1243.5,363.6 1281.1,340.1 1281.1,387.1"/>
<polygon points="1272.4,361.1 1310,337.6 1310,384.6"/>
<polygon points="1301.2,359.4 1338.8,335.9 1338.8,382.9"/>
<polygon points="1330.1,356.5 1367.7,333 1367.7,380"/>
<polygon points="1358.9,356.6 1396.5,333.1 1396.5,380.1"/>
<polygon points="1387.7,353.6 1425.3,330.1 1425.3,377.1"/>
<polygon points="1416.6,352.7 1454.2,329.2 1454.2,376.2"/>
<polygon points="1445.4,351.7 1483,328.2 1483,375.2"/>
<polygon points="1474.2,350.7 1511.8,327.2 1511.8,374.2"/>
<polygon points="1503.1,350.9 1540.7,327.4 1540.7,374.4"/>
<polygon points="1531.9,350.7 1569.5,327.2 1569.5,374.2"/>
<polygon points="1560.7,348.4 1598.3,324.9 1598.3,371.9"/>
<polygon points="1589.6,347.8 1627.2,324.3 1627.2,371.3"/>
<polygon points="1618.4,347 1656,323.5 1656,370.5"/>
<polygon points="1647.2,348 1684.8,324.5 1684.8,371.5"/>
<polygon points="1676.1,347 1713.7,323.5 1713.7,370.5"/>
<polygon points="1704.9,345.6 1742.5,322.1 1742.5,369.1"/>
<polygon points="1733.7,345.1 1771.3,321.6 1771.3,368.6"/>
<polygon points="1762.6,345.2 1800.2,321.7 1800.2,368.7"/>
<polygon points="1791.4,345.3 1829,321.8 1829,368.8"/>
<polygon points="1820.3,343.3 1857.9,319.8 1857.9,366.8"/>
<polygon points="1849.1,343.1 1886.7,319.6 1886.7,366.6"/>
<polygon points="1877.9,343.3 1915.5,319.8 1915.5,366.8"/>
<polygon points="1906.8,343.1 1944.4,319.6 1944.4,366.6"/>
<polygon points="1935.6,343.2 1973.2,319.7 1973.2,366.7"/>
<polygon points="1964.4,341 2002,317.5 2002,364.5"/>
<polygon points="1993.3,341.4 2030.9,317.9 2030.9,364.9"/>
<polygon points="2022.1,342 2059.7,318.5 2059.7,365.5"/>
<polygon points="2050.9,341 2088.5,317.5 2088.5,364.5"/>
<polygon points="2079.8,341.1 2117.4,317.6 2117.4,364.6"/>
<polygon points="2108.6,340.1 2146.2,316.6 2146.2,363.6"/>
</g>
</g>
<circle cx="751.5" cy="419.8" r="210" fill="none" stroke="#6a6a6a" stroke-width="1.6"/>
<path d="M770.9,523.5 L777.5,523.4 784.3,522.9 791.1,522.7 797.9,522.5 804.7,522.6 811.5,522.8 818.4,523.2 825.2,523.7 832,524.4 838.7,525.3 845.5,526.3 852.2,527.5 858.8,528.9 865.4,530.4 872,532.1 878.5,534 884.9,536.1 891.3,538.3 897.6,540.7 903.8,543.3 909.9,546.1 915.9,549.1 921.7,552.2 927.5,555.6 933.2,559.1 938.7,562.8 944.1,566.7 949.4,570.8 954.5,575.1 959.5,579.6 964.3,584.3 969,589.2 973.5,594.3 977.8,599.6 981.9,605.1 985.9,610.7 989.6,616.6 993.1,622.8 997.1,628 L1037.2,608.6 L1016.1,725.7 L886,695 L926.2,671.2 925.2,665.2 922.9,659.5 920.4,653.9 917.7,648.4 914.9,643.1 911.8,637.8 908.6,632.7 905.3,627.6 901.7,622.7 898.1,617.8 894.2,613.1 890.3,608.5 886.1,604 881.9,599.7 877.5,595.4 873,591.3 868.4,587.3 863.7,583.4 858.8,579.6 853.9,575.9 848.9,572.4 843.7,569 838.5,565.7 833.2,562.5 827.9,559.5 822.4,556.6 816.9,553.8 811.4,551.1 805.7,548.6 800.1,546.2 794.3,544 788.6,541.9 782.8,539.9 777,538 771.1,536.3 765.3,534.7 759.4,533.3 753.5,532 747.5,530.8 Z M770.9,523.5 L777.5,524.1 784.2,524.3 790.9,524.6 797.6,525.2 804.2,525.9 810.9,526.9 817.4,528 824,529.3 830.5,530.8 836.9,532.5 843.3,534.4 849.6,536.4 855.9,538.6 862.1,541 868.2,543.5 874.2,546.3 880.2,549.2 886.1,552.2 891.8,555.4 897.5,558.8 903.1,562.3 908.6,566 914,569.9 919.3,573.8 924.4,578 929.4,582.3 934.3,586.7 939.1,591.3 943.8,596 948.3,600.9 952.6,605.9 956.8,611 960.9,616.3 964.8,621.7 968.5,627.2 972.1,632.9 975.5,638.7 978.7,644.6 981.5,650.5 L1006.1,639.3 L997.1,701.5 L926.2,684.6 L953,666.9 951.5,660.3 948.7,654.3 945.6,648.4 942.4,642.6 938.9,637 935.2,631.5 931.4,626.2 927.4,621 923.1,615.9 918.8,611 914.2,606.3 909.5,601.6 904.6,597.1 899.6,592.8 894.5,588.6 889.2,584.5 883.8,580.6 878.3,576.8 872.7,573.1 867,569.6 861.2,566.3 855.2,563 849.3,560 843.2,557 837.1,554.3 830.9,551.6 824.6,549.1 818.3,546.8 812,544.6 805.6,542.5 799.2,540.6 792.8,538.8 786.3,537.2 779.9,535.8 773.5,534.4 767,533.3 760.6,532.2 754.2,531.3 747.5,530.8 Z" fill="#ff0000" fill-rule="evenodd"/>
<g stroke="#000" stroke-width="7.8" fill="none" stroke-linecap="square">
<rect x="323" y="59.9" width="1802.2" height="1452.4" stroke-linecap="butt"/>
</g>
<path d="M291.5,1512.3H323M305.5,1439.7H323M291.5,1367.1H323M305.5,1294.4H323M291.5,1221.8H323M305.5,1149.2H323M291.5,1076.6H323M305.5,1004H323M291.5,931.3H323M305.5,858.7H323M291.5,786.1H323M305.5,713.5H323M291.5,640.9H323M305.5,568.2H323M291.5,495.6H323M305.5,423H323M291.5,350.4H323M305.5,277.8H323M291.5,205.1H323M305.5,132.5H323M291.5,59.9H323M323,1512.3V1543.5M503.2,1512.3V1529.8M683.4,1512.3V1543.5M863.7,1512.3V1529.8M1043.9,1512.3V1543.5M1224.1,1512.3V1529.8M1404.3,1512.3V1543.5M1584.5,1512.3V1529.8M1764.8,1512.3V1543.5M1945,1512.3V1529.8M2125.2,1512.3V1543.5" stroke="#000" stroke-width="7.8" fill="none"/>
<g font-family="'Liberation Sans', Arial, Helvetica, sans-serif" font-weight="bold" font-size="74" text-anchor="end" fill="#000">
<text transform="translate(273,1531.7) scale(1,1.04)">0</text>
<text transform="translate(273,1386.5) scale(1,1.04)">10</text>
<text transform="translate(273,1241.2) scale(1,1.04)">20</text>
<text transform="translate(273,1096) scale(1,1.04)">30</text>
<text transform="translate(273,950.7) scale(1,1.04)">40</text>
<text transform="translate(273,805.5) scale(1,1.04)">50</text>
<text transform="translate(273,660.3) scale(1,1.04)">60</text>
<text transform="translate(273,515) scale(1,1.04)">70</text>
<text transform="translate(273,369.8) scale(1,1.04)">80</text>
<text transform="translate(273,224.5) scale(1,1.04)">90</text>
<text transform="translate(273,79.3) scale(1,1.04)">100</text>
</g>
<g font-family="'Liberation Sans', Arial, Helvetica, sans-serif" font-weight="bold" font-size="74" text-anchor="middle" fill="#000">
<text transform="translate(322.5,1619) scale(1,1.04)">300</text>
<text transform="translate(682.9,1619) scale(1,1.04)">400</text>
<text transform="translate(1043.4,1619) scale(1,1.04)">500</text>
<text transform="translate(1403.8,1619) scale(1,1.04)">600</text>
<text transform="translate(1764.3,1619) scale(1,1.04)">700</text>
<text transform="translate(2124.7,1619) scale(1,1.04)">800</text>
</g>
<text font-family="'Liberation Sans', Arial, Helvetica, sans-serif" font-weight="bold" font-size="82.6" text-anchor="middle" transform="translate(98.3,838.6) rotate(-90) scale(1,1.04)">Transmittance (%)</text>
<text font-family="'Liberation Sans', Arial, Helvetica, sans-serif" font-weight="bold" font-size="80.4" transform="translate(902,1753.6) scale(1,1.04)">Wavelength (nm)</text>
<line x1="711.5" y1="1011.3" x2="871" y2="1011.3" stroke="#000000" stroke-width="5"/>
<g fill="#ffffff" stroke="#000000" stroke-width="5" stroke-linejoin="miter"><rect x="772.3" y="992.3" width="38" height="38"/></g>
<text font-family="'Liberation Sans', Arial, Helvetica, sans-serif" font-weight="bold" font-size="68.1" transform="translate(886.8,1035.4) scale(1,1.02)">FPI-1 (6FDA-MABTFMB)</text>
<line x1="711.5" y1="1097.8" x2="871" y2="1097.8" stroke="#ff0000" stroke-width="5"/>
<g fill="#ffffff" stroke="#ff0000" stroke-width="5" stroke-linejoin="miter"><circle cx="791.3" cy="1097.8" r="20.5"/></g>
<text font-family="'Liberation Sans', Arial, Helvetica, sans-serif" font-weight="bold" font-size="68.1" transform="translate(886.8,1121.9) scale(1,1.02)">FPI-2 (6FDA/BPDA-MABTFMB, 90:10)</text>
<line x1="711.5" y1="1184.3" x2="871" y2="1184.3" stroke="#0000b4" stroke-width="5"/>
<g fill="#ffffff" stroke="#0000b4" stroke-width="5" stroke-linejoin="miter"><polygon points="791.3,1155.4 816.3,1198.7 766.3,1198.7"/></g>
<text font-family="'Liberation Sans', Arial, Helvetica, sans-serif" font-weight="bold" font-size="68.1" transform="translate(886.8,1208.3) scale(1,1.02)">FPI-3 (6FDA/BPDA-MABTFMB, 80:20)</text>
<line x1="711.5" y1="1270.8" x2="871" y2="1270.8" stroke="#00220f" stroke-width="5"/>
<g fill="#ffffff" stroke="#00220f" stroke-width="5" stroke-linejoin="miter"><polygon points="791.3,1299.7 816.3,1256.4 766.3,1256.4"/></g>
<text font-family="'Liberation Sans', Arial, Helvetica, sans-serif" font-weight="bold" font-size="68.1" transform="translate(886.8,1294.8) scale(1,1.02)">FPI-4 (6FDA/BPDA-MABTFMB, 70:30)</text>
<line x1="711.5" y1="1357.3" x2="871" y2="1357.3" stroke="#2a00be" stroke-width="5"/>
<g fill="#ffffff" stroke="#2a00be" stroke-width="5" stroke-linejoin="miter"><polygon points="791.3,1330.3 818.3,1357.3 791.3,1384.3 764.3,1357.3"/></g>
<text font-family="'Liberation Sans', Arial, Helvetica, sans-serif" font-weight="bold" font-size="68.1" transform="translate(886.8,1381.2) scale(1,1.02)">FPI-5 (6FDA/BPDA-MABTFMB, 60:40)</text>
<line x1="711.5" y1="1443.8" x2="871" y2="1443.8" stroke="#8c0000" stroke-width="5"/>
<g fill="#ffffff" stroke="#8c0000" stroke-width="5" stroke-linejoin="miter"><polygon points="764.6,1443.8 804.6,1418.8 804.6,1468.8"/></g>
<text font-family="'Liberation Sans', Arial, Helvetica, sans-serif" font-weight="bold" font-size="68.1" transform="translate(886.8,1467.7) scale(1,1.02)">FPI-6 (6FDA/BPDA-MABTFMB, 50:50)</text>
<g clip-path="url(#ci)" stroke-linejoin="miter">
<polyline fill="none" stroke="#000000" stroke-width="2.6" points="1149,1261.7 1152.2,1259.9 1155.4,1257.5 1158.6,1254.4 1161.8,1250.8 1165,1246.7 1168.2,1242.1 1171.5,1236.5 1174.7,1227.3 1177.9,1214.8 1181.1,1199.6 1184.3,1182.3 1187.5,1163.6 1190.7,1144.3 1194,1124.9 1197.2,1106 1200.4,1085.7 1203.6,1063.5 1206.8,1040 1210,1015.8 1213.2,991.6 1216.5,968.2 1219.7,946 1222.9,925.8 1226.1,906.2 1229.3,886.8 1232.5,867.8 1235.7,849.7 1239,832.4 1242.2,816.5 1245.4,802 1248.6,789.2 1251.8,777.2 1255,766 1258.2,755.5 1261.4,745.5 1264.7,736.2 1267.9,727.5 1271.1,719.3 1274.3,711.6 1277.5,704.4 1280.7,697.5 1283.9,690.9 1287.2,684.7 1290.4,678.9 1293.6,673.4 1296.8,668.4 1300,663.7 1303.2,659.4 1306.4,655.4 1309.7,651.6 1312.9,648 1316.1,644.6 1319.3,641.5 1322.5,638.6 1325.7,636 1328.9,633.6 1332.2,631.3 1335.4,629.2 1338.6,627.2 1341.8,625.3 1345,623.5 1348.2,621.9 1351.4,620.5 1354.7,619.2 1357.9,618.1 1361.1,617 1364.3,616 1367.5,615.1 1370.7,614.2 1373.9,613.4 1377.2,612.5 1380.4,611.6 1383.6,610.6 1386.8,609.7 1390,608.8 1393.2,608 1396.4,607.1 1399.7,606.3 1402.9,605.6 1406.1,604.9 1409.3,604.2 1412.5,603.5 1415.7,602.9 1418.9,602.3 1422.1,601.8 1425.4,601.2 1428.6,600.7 1431.8,600.3 1435,599.8 1438.2,599.4 1441.4,599.1 1444.6,598.7 1447.9,598.3 1451.1,598 1454.3,597.6 1457.5,597.1 1460.7,596.7 1463.9,596.3 1467.1,595.8 1470.4,595.4 1473.6,594.9 1476.8,594.5 1480,594.1 1483.2,593.7 1486.4,593.4 1489.6,593 1492.9,592.7 1496.1,592.4 1499.3,592 1502.5,591.7 1505.7,591.4 1508.9,591.1 1512.1,590.8 1515.4,590.5 1518.6,590.2 1521.8,589.9 1525,589.6 1528.2,589.3 1531.4,589 1534.6,588.7 1537.9,588.4 1541.1,588.1 1544.3,587.8 1547.5,587.5 1550.7,587.2 1553.9,586.9 1557.1,586.6 1560.4,586.3 1563.6,586.1 1566.8,585.8 1570,585.6 1573.2,585.3 1576.4,585.1 1579.6,584.8 1582.8,584.6 1586.1,584.3 1589.3,584.1 1592.5,583.9 1595.7,583.6 1598.9,583.4 1602.1,583.2 1605.3,582.9 1608.6,582.7 1611.8,582.5 1615,582.3 1618.2,582.1 1621.4,581.9 1624.6,581.7 1627.8,581.5 1631.1,581.3 1634.3,581.1 1637.5,580.9 1640.7,580.7 1643.9,580.5 1647.1,580.4 1650.3,580.2 1653.6,580 1656.8,579.9 1660,579.7 1663.2,579.6 1666.4,579.4 1669.6,579.3 1672.8,579.1 1676.1,579 1679.3,578.9 1682.5,578.7 1685.7,578.6 1688.9,578.5 1692.1,578.4 1695.3,578.2"/>
<g fill="#ffffff" stroke="#000000" stroke-width="2.8">
<rect x="1139.8" y="1249.1" width="22.8" height="22.8"/>
<rect x="1165.5" y="1207.5" width="22.8" height="22.8"/>
<rect x="1191.2" y="1059" width="22.8" height="22.8"/>
<rect x="1216.9" y="881.2" width="22.8" height="22.8"/>
<rect x="1242.7" y="757.9" width="22.8" height="22.8"/>
<rect x="1268.4" y="688.1" width="22.8" height="22.8"/>
<rect x="1294.1" y="645.2" width="22.8" height="22.8"/>
<rect x="1319.8" y="620.6" width="22.8" height="22.8"/>
<rect x="1345.5" y="607" width="22.8" height="22.8"/>
<rect x="1371.2" y="599.5" width="22.8" height="22.8"/>
<rect x="1396.9" y="593" width="22.8" height="22.8"/>
<rect x="1422.6" y="588.6" width="22.8" height="22.8"/>
<rect x="1448.4" y="585.4" width="22.8" height="22.8"/>
<rect x="1474.1" y="582.1" width="22.8" height="22.8"/>
<rect x="1499.8" y="579.5" width="22.8" height="22.8"/>
<rect x="1525.5" y="577.1" width="22.8" height="22.8"/>
<rect x="1551.2" y="574.8" width="22.8" height="22.8"/>
<rect x="1576.9" y="572.8" width="22.8" height="22.8"/>
<rect x="1602.6" y="571" width="22.8" height="22.8"/>
<rect x="1628.3" y="569.4" width="22.8" height="22.8"/>
<rect x="1654" y="568.1" width="22.8" height="22.8"/>
<rect x="1679.8" y="567" width="22.8" height="22.8"/>
</g>
<polyline fill="none" stroke="#ff0000" stroke-width="2.6" points="1149,1269.9 1152.2,1269.9 1155.4,1269.9 1158.6,1269.9 1161.8,1269.9 1165,1269.9 1168.2,1269.9 1171.5,1269.9 1174.7,1269.8 1177.9,1269.7 1181.1,1269.5 1184.3,1269.3 1187.5,1269 1190.7,1268.7 1194,1268.3 1197.2,1266.6 1200.4,1262.5 1203.6,1256.2 1206.8,1248.2 1210,1238.7 1213.2,1228.2 1216.5,1217 1219.7,1205.2 1222.9,1190.2 1226.1,1170.6 1229.3,1147.3 1232.5,1121.6 1235.7,1094.4 1239,1066.8 1242.2,1039.9 1245.4,1014.8 1248.6,989.6 1251.8,963.1 1255,936.1 1258.2,909.3 1261.4,883.4 1264.7,859 1267.9,837 1271.1,818 1274.3,800.8 1277.5,784.4 1280.7,769 1283.9,754.5 1287.2,741.2 1290.4,729.2 1293.6,718.5 1296.8,709.3 1300,701.1 1303.2,693.4 1306.4,686.3 1309.7,679.8 1312.9,673.9 1316.1,668.6 1319.3,664 1322.5,660 1325.7,656.6 1328.9,653.5 1332.2,650.7 1335.4,648.2 1338.6,645.8 1341.8,643.6 1345,641.4 1348.2,639.2 1351.4,636.9 1354.7,634.7 1357.9,632.5 1361.1,630.4 1364.3,628.4 1367.5,626.6 1370.7,625.1 1373.9,623.7 1377.2,622.6 1380.4,621.6 1383.6,620.7 1386.8,619.8 1390,619 1393.2,618.3 1396.4,617.6 1399.7,616.8 1402.9,616.1 1406.1,615.3 1409.3,614.6 1412.5,613.9 1415.7,613.2 1418.9,612.5 1422.1,611.9 1425.4,611.2 1428.6,610.7 1431.8,610.1 1435,609.6 1438.2,609.1 1441.4,608.6 1444.6,608.2 1447.9,607.7 1451.1,607.2 1454.3,606.8 1457.5,606.3 1460.7,605.8 1463.9,605.3 1467.1,604.8 1470.4,604.3 1473.6,603.8 1476.8,603.3 1480,602.9 1483.2,602.4 1486.4,602 1489.6,601.6 1492.9,601.2 1496.1,600.8 1499.3,600.5 1502.5,600.1 1505.7,599.8 1508.9,599.4 1512.1,599.1 1515.4,598.8 1518.6,598.5 1521.8,598.2 1525,598 1528.2,597.7 1531.4,597.4 1534.6,597.2 1537.9,596.9 1541.1,596.7 1544.3,596.4 1547.5,596.2 1550.7,595.9 1553.9,595.7 1557.1,595.4 1560.4,595.2 1563.6,595 1566.8,594.7 1570,594.5 1573.2,594.3 1576.4,594 1579.6,593.8 1582.8,593.6 1586.1,593.4 1589.3,593.2 1592.5,593 1595.7,592.8 1598.9,592.6 1602.1,592.4 1605.3,592.2 1608.6,592 1611.8,591.8 1615,591.6 1618.2,591.5 1621.4,591.3 1624.6,591.1 1627.8,591 1631.1,590.8 1634.3,590.7 1637.5,590.6 1640.7,590.4 1643.9,590.3 1647.1,590.2 1650.3,590.1 1653.6,590 1656.8,589.9 1660,589.8 1663.2,589.7 1666.4,589.5 1669.6,589.4 1672.8,589.3 1676.1,589.1 1679.3,589 1682.5,588.9 1685.7,588.7 1688.9,588.6 1692.1,588.4 1695.3,588.3"/>
<g fill="#ffffff" stroke="#ff0000" stroke-width="2.8">
<circle cx="1149.3" cy="1269.9" r="12.3"/>
<circle cx="1175" cy="1269.8" r="12.3"/>
<circle cx="1200.7" cy="1261.9" r="12.3"/>
<circle cx="1226.4" cy="1168.4" r="12.3"/>
<circle cx="1252.1" cy="960.4" r="12.3"/>
<circle cx="1277.8" cy="782.8" r="12.3"/>
<circle cx="1303.6" cy="692.7" r="12.3"/>
<circle cx="1329.3" cy="653.2" r="12.3"/>
<circle cx="1355" cy="634.5" r="12.3"/>
<circle cx="1380.7" cy="621.5" r="12.3"/>
<circle cx="1406.4" cy="615.3" r="12.3"/>
<circle cx="1432.1" cy="610.1" r="12.3"/>
<circle cx="1457.8" cy="606.2" r="12.3"/>
<circle cx="1483.5" cy="602.4" r="12.3"/>
<circle cx="1509.2" cy="599.4" r="12.3"/>
<circle cx="1535" cy="597.2" r="12.3"/>
<circle cx="1560.7" cy="595.2" r="12.3"/>
<circle cx="1586.4" cy="593.4" r="12.3"/>
<circle cx="1612.1" cy="591.8" r="12.3"/>
<circle cx="1637.8" cy="590.6" r="12.3"/>
<circle cx="1663.5" cy="589.6" r="12.3"/>
<circle cx="1689.2" cy="588.6" r="12.3"/>
</g>
<polyline fill="none" stroke="#0000dc" stroke-width="2.6" points="1149,1268.8 1152.2,1268.7 1155.4,1268.7 1158.6,1268.7 1161.8,1268.7 1165,1268.6 1168.2,1268.6 1171.5,1268.6 1174.7,1268.6 1177.9,1268.5 1181.1,1268.5 1184.3,1268.5 1187.5,1268.4 1190.7,1268.4 1194,1268.4 1197.2,1268.3 1200.4,1268 1203.6,1267.1 1206.8,1265.7 1210,1263.7 1213.2,1261.4 1216.5,1258.6 1219.7,1255.5 1222.9,1252 1226.1,1246.1 1229.3,1236.1 1232.5,1222.6 1235.7,1206.4 1239,1188.2 1242.2,1168.5 1245.4,1148.1 1248.6,1127.6 1251.8,1104.7 1255,1077.2 1258.2,1046.7 1261.4,1014.4 1264.7,981.8 1267.9,950.3 1271.1,921.2 1274.3,896 1277.5,873.3 1280.7,851.1 1283.9,829.8 1287.2,809.6 1290.4,790.7 1293.6,773.5 1296.8,758.2 1300,745.1 1303.2,733.7 1306.4,722.9 1309.7,713 1312.9,703.9 1316.1,695.6 1319.3,688.1 1322.5,681.6 1325.7,676 1328.9,671 1332.2,666.4 1335.4,662.3 1338.6,658.5 1341.8,655 1345,651.9 1348.2,649 1351.4,646.4 1354.7,644.1 1357.9,641.9 1361.1,639.9 1364.3,638.1 1367.5,636.3 1370.7,634.7 1373.9,633.2 1377.2,631.6 1380.4,630.2 1383.6,628.7 1386.8,627.3 1390,626 1393.2,624.7 1396.4,623.5 1399.7,622.5 1402.9,621.5 1406.1,620.7 1409.3,619.9 1412.5,619.2 1415.7,618.5 1418.9,617.9 1422.1,617.2 1425.4,616.7 1428.6,616.1 1431.8,615.5 1435,615 1438.2,614.5 1441.4,614.1 1444.6,613.6 1447.9,613.1 1451.1,612.7 1454.3,612.2 1457.5,611.7 1460.7,611.2 1463.9,610.7 1467.1,610.2 1470.4,609.7 1473.6,609.2 1476.8,608.8 1480,608.3 1483.2,607.9 1486.4,607.5 1489.6,607.1 1492.9,606.7 1496.1,606.3 1499.3,605.9 1502.5,605.6 1505.7,605.2 1508.9,604.9 1512.1,604.6 1515.4,604.2 1518.6,603.9 1521.8,603.7 1525,603.4 1528.2,603.1 1531.4,602.9 1534.6,602.7 1537.9,602.4 1541.1,602.2 1544.3,602 1547.5,601.8 1550.7,601.6 1553.9,601.4 1557.1,601.2 1560.4,601 1563.6,600.8 1566.8,600.7 1570,600.5 1573.2,600.3 1576.4,600.2 1579.6,600 1582.8,599.8 1586.1,599.7 1589.3,599.5 1592.5,599.3 1595.7,599.2 1598.9,599 1602.1,598.9 1605.3,598.7 1608.6,598.6 1611.8,598.4 1615,598.2 1618.2,598.1 1621.4,597.9 1624.6,597.8 1627.8,597.6 1631.1,597.4 1634.3,597.3 1637.5,597.1 1640.7,596.9 1643.9,596.8 1647.1,596.6 1650.3,596.5 1653.6,596.3 1656.8,596.1 1660,596 1663.2,595.8 1666.4,595.7 1669.6,595.5 1672.8,595.4 1676.1,595.2 1679.3,595.1 1682.5,594.9 1685.7,594.7 1688.9,594.6 1692.1,594.4 1695.3,594.3"/>
<g fill="#ffffff" stroke="#0000dc" stroke-width="2.8">
<polygon points="1150.6,1251.4 1165.6,1277.4 1135.6,1277.4"/>
<polygon points="1176.3,1251.2 1191.3,1277.2 1161.3,1277.2"/>
<polygon points="1202,1250.3 1217,1276.3 1187,1276.3"/>
<polygon points="1227.7,1224.3 1242.7,1250.2 1212.7,1250.2"/>
<polygon points="1253.4,1074.1 1268.4,1100.1 1238.4,1100.1"/>
<polygon points="1279.1,844.8 1294.1,870.8 1264.1,870.8"/>
<polygon points="1304.8,710.9 1319.8,736.9 1289.8,736.9"/>
<polygon points="1330.6,651.3 1345.6,677.3 1315.6,677.3"/>
<polygon points="1356.3,625.6 1371.3,651.6 1341.3,651.6"/>
<polygon points="1382,612.1 1397,638.1 1367,638.1"/>
<polygon points="1407.7,603 1422.7,628.9 1392.7,628.9"/>
<polygon points="1433.4,598 1448.4,623.9 1418.4,623.9"/>
<polygon points="1459.1,594.1 1474.1,620.1 1444.1,620.1"/>
<polygon points="1484.8,590.4 1499.8,616.3 1469.8,616.3"/>
<polygon points="1510.5,587.4 1525.5,613.4 1495.5,613.4"/>
<polygon points="1536.2,585.2 1551.2,611.2 1521.2,611.2"/>
<polygon points="1562,583.6 1577,609.6 1547,609.6"/>
<polygon points="1587.7,582.3 1602.7,608.2 1572.7,608.2"/>
<polygon points="1613.4,581 1628.4,607 1598.4,607"/>
<polygon points="1639.1,579.7 1654.1,605.7 1624.1,605.7"/>
<polygon points="1664.8,578.4 1679.8,604.4 1649.8,604.4"/>
<polygon points="1690.5,577.2 1705.5,603.2 1675.5,603.2"/>
</g>
<polyline fill="none" stroke="#006033" stroke-width="2.6" points="1149,1260.3 1152.2,1260.3 1155.4,1260.3 1158.6,1260.3 1161.8,1260.3 1165,1260.2 1168.2,1260.2 1171.5,1260.2 1174.7,1260.2 1177.9,1260.2 1181.1,1260.1 1184.3,1260.1 1187.5,1260.1 1190.7,1260.1 1194,1260 1197.2,1260 1200.4,1260 1203.6,1260 1206.8,1259.9 1210,1259.9 1213.2,1259.9 1216.5,1259.8 1219.7,1259.8 1222.9,1259.8 1226.1,1258.5 1229.3,1255.1 1232.5,1249.7 1235.7,1242.6 1239,1234.1 1242.2,1224.5 1245.4,1214 1248.6,1203 1251.8,1188.1 1255,1166.7 1258.2,1140.4 1261.4,1110.8 1264.7,1079.6 1267.9,1048.2 1271.1,1018.4 1274.3,991.6 1277.5,966.3 1280.7,940.5 1283.9,914.5 1287.2,889.2 1290.4,865.1 1293.6,842.7 1296.8,822.7 1300,805.8 1303.2,790.9 1306.4,777 1309.7,764 1312.9,751.9 1316.1,741 1319.3,731.1 1322.5,722.3 1325.7,714.8 1328.9,708.2 1332.2,702.1 1335.4,696.6 1338.6,692.1 1341.8,688.1 1345,684.5 1348.2,681.2 1351.4,678.3 1354.7,675.6 1357.9,673.2 1361.1,670.9 1364.3,668.9 1367.5,667 1370.7,665.3 1373.9,663.7 1377.2,662.3 1380.4,660.8 1383.6,658.9 1386.8,657.1 1390,655.4 1393.2,653.8 1396.4,652.3 1399.7,650.9 1402.9,649.5 1406.1,648.3 1409.3,647.1 1412.5,645.9 1415.7,644.8 1418.9,643.8 1422.1,642.8 1425.4,641.9 1428.6,641 1431.8,640.1 1435,639.2 1438.2,638.4 1441.4,637.6 1444.6,636.9 1447.9,636.1 1451.1,635.4 1454.3,634.8 1457.5,634.1 1460.7,633.5 1463.9,632.9 1467.1,632.3 1470.4,631.7 1473.6,631.2 1476.8,630.6 1480,630.1 1483.2,629.6 1486.4,629.1 1489.6,628.6 1492.9,628.1 1496.1,627.6 1499.3,627.1 1502.5,626.7 1505.7,626.2 1508.9,625.7 1512.1,625.3 1515.4,624.8 1518.6,624.4 1521.8,623.9 1525,623.5 1528.2,623.1 1531.4,622.7 1534.6,622.3 1537.9,622 1541.1,621.6 1544.3,621.2 1547.5,620.9 1550.7,620.5 1553.9,620.1 1557.1,619.8 1560.4,619.4 1563.6,619.1 1566.8,618.8 1570,618.4 1573.2,618.1 1576.4,617.8 1579.6,617.4 1582.8,617.1 1586.1,616.8 1589.3,616.5 1592.5,616.2 1595.7,615.9 1598.9,615.6 1602.1,615.3 1605.3,615 1608.6,614.7 1611.8,614.4 1615,614.2 1618.2,613.9 1621.4,613.6 1624.6,613.4 1627.8,613.1 1631.1,612.8 1634.3,612.6 1637.5,612.4 1640.7,612.1 1643.9,611.9 1647.1,611.7 1650.3,611.5 1653.6,611.3 1656.8,611.1 1660,610.9 1663.2,610.7 1666.4,610.4 1669.6,610.2 1672.8,610 1676.1,609.8 1679.3,609.5 1682.5,609.3 1685.7,609.1 1688.9,608.8 1692.1,608.6 1695.3,608.4"/>
<g fill="#ffffff" stroke="#006033" stroke-width="2.8">
<polygon points="1174.4,1277.5 1189.4,1251.5 1159.4,1251.5"/>
<polygon points="1200.1,1277.3 1215.1,1251.3 1185.1,1251.3"/>
<polygon points="1225.8,1276.1 1240.8,1250.1 1210.8,1250.1"/>
<polygon points="1251.5,1207.2 1266.5,1181.2 1236.5,1181.2"/>
<polygon points="1277.2,986.2 1292.2,960.2 1262.2,960.2"/>
<polygon points="1302.9,809.7 1317.9,783.7 1287.9,783.7"/>
<polygon points="1328.6,726.2 1343.6,700.2 1313.6,700.2"/>
<polygon points="1354.3,693.2 1369.3,667.2 1339.3,667.2"/>
<polygon points="1380,678.3 1395,652.3 1365,652.3"/>
<polygon points="1405.8,665.7 1420.8,639.7 1390.8,639.7"/>
<polygon points="1431.5,657.5 1446.5,631.5 1416.5,631.5"/>
<polygon points="1457.2,651.5 1472.2,625.5 1442.2,625.5"/>
<polygon points="1482.9,646.9 1497.9,621 1467.9,621"/>
<polygon points="1508.6,643.1 1523.6,617.1 1493.6,617.1"/>
<polygon points="1534.3,639.7 1549.3,613.7 1519.3,613.7"/>
<polygon points="1560,636.8 1575,610.8 1545,610.8"/>
<polygon points="1585.7,634.2 1600.7,608.2 1570.7,608.2"/>
<polygon points="1611.5,631.8 1626.5,605.8 1596.5,605.8"/>
<polygon points="1637.2,629.7 1652.2,603.7 1622.2,603.7"/>
<polygon points="1662.9,628 1677.9,602 1647.9,602"/>
<polygon points="1688.6,626.2 1703.6,600.2 1673.6,600.2"/>
</g>
<polyline fill="none" stroke="#7a14c8" stroke-width="2.6" points="1149,1264.2 1152.2,1264.2 1155.4,1264.2 1158.6,1264.2 1161.8,1264.1 1165,1264.1 1168.2,1264.1 1171.5,1264.1 1174.7,1264.1 1177.9,1264 1181.1,1264 1184.3,1264 1187.5,1264 1190.7,1264 1194,1263.9 1197.2,1263.9 1200.4,1263.9 1203.6,1263.8 1206.8,1263.8 1210,1263.8 1213.2,1263.8 1216.5,1263.7 1219.7,1263.7 1222.9,1263.7 1226.1,1263.3 1229.3,1262.2 1232.5,1260.6 1235.7,1258.3 1239,1255.5 1242.2,1252.3 1245.4,1248.5 1248.6,1244.4 1251.8,1236.3 1255,1221.7 1258.2,1201.9 1261.4,1178.3 1264.7,1152.3 1267.9,1125.2 1271.1,1098.3 1274.3,1073.2 1277.5,1047.8 1280.7,1019.8 1283.9,990.4 1287.2,960.6 1290.4,931.4 1293.6,903.8 1296.8,879 1300,857.9 1303.2,839.3 1306.4,821.7 1309.7,805.1 1312.9,789.6 1316.1,775.3 1319.3,762.4 1322.5,751 1325.7,741.3 1328.9,732.7 1332.2,724.8 1335.4,717.5 1338.6,710.8 1341.8,704.7 1345,699.2 1348.2,694.3 1351.4,689.9 1354.7,686 1357.9,682.4 1361.1,679.1 1364.3,676.1 1367.5,673.3 1370.7,670.7 1373.9,668.2 1377.2,665.8 1380.4,663.6 1383.6,661.6 1386.8,659.6 1390,657.7 1393.2,656 1396.4,654.3 1399.7,652.7 1402.9,651.1 1406.1,649.5 1409.3,648 1412.5,646.5 1415.7,645.1 1418.9,643.8 1422.1,642.5 1425.4,641.3 1428.6,640.2 1431.8,639.2 1435,638.2 1438.2,637.3 1441.4,636.5 1444.6,635.6 1447.9,634.8 1451.1,634 1454.3,633.2 1457.5,632.4 1460.7,631.5 1463.9,630.7 1467.1,629.9 1470.4,629.1 1473.6,628.4 1476.8,627.7 1480,627 1483.2,626.3 1486.4,625.7 1489.6,625.1 1492.9,624.5 1496.1,623.9 1499.3,623.4 1502.5,622.8 1505.7,622.3 1508.9,621.8 1512.1,621.4 1515.4,620.9 1518.6,620.5 1521.8,620.1 1525,619.7 1528.2,619.2 1531.4,618.8 1534.6,618.4 1537.9,617.9 1541.1,617.5 1544.3,617.1 1547.5,616.6 1550.7,616.1 1553.9,615.7 1557.1,615.2 1560.4,614.8 1563.6,614.3 1566.8,613.8 1570,613.4 1573.2,612.9 1576.4,612.5 1579.6,612 1582.8,611.6 1586.1,611.1 1589.3,610.7 1592.5,610.3 1595.7,609.8 1598.9,609.4 1602.1,609 1605.3,608.6 1608.6,608.2 1611.8,607.9 1615,607.5 1618.2,607.1 1621.4,606.8 1624.6,606.5 1627.8,606.2 1631.1,605.9 1634.3,605.6 1637.5,605.3 1640.7,605.1 1643.9,604.9 1647.1,604.7 1650.3,604.5 1653.6,604.3 1656.8,604.1 1660,603.9 1663.2,603.7 1666.4,603.4 1669.6,603.2 1672.8,603 1676.1,602.8 1679.3,602.6 1682.5,602.4 1685.7,602.2 1688.9,602 1692.1,601.8 1695.3,601.6"/>
<g fill="#ffffff" stroke="#7a14c8" stroke-width="2.8">
<polygon points="1151.5,1248 1167.7,1264.2 1151.5,1280.4 1135.3,1264.2"/>
<polygon points="1177.2,1247.8 1193.4,1264 1177.2,1280.2 1161,1264"/>
<polygon points="1203,1247.7 1219.2,1263.9 1203,1280.1 1186.8,1263.9"/>
<polygon points="1228.7,1246.3 1244.9,1262.5 1228.7,1278.7 1212.5,1262.5"/>
<polygon points="1254.4,1208.9 1270.6,1225.1 1254.4,1241.3 1238.2,1225.1"/>
<polygon points="1280.1,1009.4 1296.3,1025.6 1280.1,1041.8 1263.9,1025.6"/>
<polygon points="1305.8,809 1322,825.2 1305.8,841.4 1289.6,825.2"/>
<polygon points="1331.5,710.1 1347.7,726.3 1331.5,742.5 1315.3,726.3"/>
<polygon points="1357.2,666.9 1373.4,683.1 1357.2,699.3 1341,683.1"/>
<polygon points="1382.9,645.8 1399.1,662 1382.9,678.2 1366.7,662"/>
<polygon points="1408.7,632.1 1424.9,648.3 1408.7,664.5 1392.5,648.3"/>
<polygon points="1434.4,622.2 1450.6,638.4 1434.4,654.6 1418.2,638.4"/>
<polygon points="1460.1,615.5 1476.3,631.7 1460.1,647.9 1443.9,631.7"/>
<polygon points="1485.8,609.6 1502,625.8 1485.8,642 1469.6,625.8"/>
<polygon points="1511.5,605.3 1527.7,621.5 1511.5,637.7 1495.3,621.5"/>
<polygon points="1537.2,601.8 1553.4,618 1537.2,634.2 1521,618"/>
<polygon points="1562.9,598.2 1579.1,614.4 1562.9,630.6 1546.7,614.4"/>
<polygon points="1588.6,594.6 1604.8,610.8 1588.6,627 1572.4,610.8"/>
<polygon points="1614.3,591.4 1630.5,607.6 1614.3,623.8 1598.1,607.6"/>
<polygon points="1640.1,588.9 1656.3,605.1 1640.1,621.3 1623.9,605.1"/>
<polygon points="1665.8,587.3 1682,603.5 1665.8,619.7 1649.6,603.5"/>
<polygon points="1691.5,585.6 1707.7,601.8 1691.5,618 1675.3,601.8"/>
</g>
<polyline fill="none" stroke="#c84a14" stroke-width="2.6" points="1149,1264.4 1152.2,1264.4 1155.4,1264.4 1158.6,1264.4 1161.8,1264.4 1165,1264.4 1168.2,1264.4 1171.5,1264.4 1174.7,1264.4 1177.9,1264.4 1181.1,1264.4 1184.3,1264.4 1187.5,1264.4 1190.7,1264.4 1194,1264.4 1197.2,1264.4 1200.4,1264.4 1203.6,1264.4 1206.8,1264.4 1210,1264.4 1213.2,1264.4 1216.5,1264.4 1219.7,1264.4 1222.9,1264.4 1226.1,1264.2 1229.3,1263.7 1232.5,1263 1235.7,1262 1239,1260.9 1242.2,1259.5 1245.4,1257.9 1248.6,1255.3 1251.8,1247.3 1255,1234.1 1258.2,1216.9 1261.4,1197.1 1264.7,1175.8 1267.9,1154.1 1271.1,1133.5 1274.3,1112.6 1277.5,1089.1 1280.7,1063.7 1283.9,1037.3 1287.2,1010.8 1290.4,985 1293.6,960.7 1296.8,938.8 1300,919.5 1303.2,900.7 1306.4,882.3 1309.7,864.9 1312.9,848.7 1316.1,834.1 1319.3,821.5 1322.5,811.2 1325.7,802.7 1328.9,794.9 1332.2,787.8 1335.4,781.4 1338.6,775.6 1341.8,770.3 1345,765.4 1348.2,760.9 1351.4,756.6 1354.7,752.7 1357.9,749.1 1361.1,745.7 1364.3,742.6 1367.5,739.7 1370.7,736.9 1373.9,734.2 1377.2,731.7 1380.4,729.3 1383.6,726.9 1386.8,724.6 1390,722.5 1393.2,720.6 1396.4,718.8 1399.7,717.3 1402.9,715.9 1406.1,714.7 1409.3,713.6 1412.5,712.5 1415.7,711.5 1418.9,710.6 1422.1,709.7 1425.4,708.8 1428.6,707.8 1431.8,706.9 1435,706 1438.2,705.1 1441.4,704.2 1444.6,703.3 1447.9,702.5 1451.1,701.7 1454.3,700.8 1457.5,700 1460.7,699.2 1463.9,698.4 1467.1,697.7 1470.4,696.9 1473.6,696.1 1476.8,695.4 1480,694.6 1483.2,693.8 1486.4,693 1489.6,692.2 1492.9,691.4 1496.1,690.7 1499.3,689.9 1502.5,689.1 1505.7,688.4 1508.9,687.7 1512.1,687 1515.4,686.3 1518.6,685.6 1521.8,684.9 1525,684.2 1528.2,683.6 1531.4,683 1534.6,682.3 1537.9,681.7 1541.1,681.1 1544.3,680.5 1547.5,679.9 1550.7,679.3 1553.9,678.8 1557.1,678.3 1560.4,677.8 1563.6,677.4 1566.8,676.9 1570,676.5 1573.2,676.1 1576.4,675.7 1579.6,675.4 1582.8,675 1586.1,674.6 1589.3,674.3 1592.5,673.9 1595.7,673.6 1598.9,673.2 1602.1,672.8 1605.3,672.4 1608.6,672.1 1611.8,671.7 1615,671.3 1618.2,670.9 1621.4,670.5 1624.6,670.1 1627.8,669.7 1631.1,669.2 1634.3,668.8 1637.5,668.4 1640.7,668 1643.9,667.7 1647.1,667.3 1650.3,666.9 1653.6,666.5 1656.8,666.2 1660,665.8 1663.2,665.5 1666.4,665.2 1669.6,664.9 1672.8,664.6 1676.1,664.3 1679.3,664 1682.5,663.7 1685.7,663.4 1688.9,663.2 1692.1,662.9 1695.3,662.6"/>
<g fill="#ffffff" stroke="#c84a14" stroke-width="2.8">
<polygon points="1133.3,1264.4 1157.3,1249.4 1157.3,1279.4"/>
<polygon points="1159,1264.4 1183,1249.4 1183,1279.4"/>
<polygon points="1184.7,1264.4 1208.7,1249.4 1208.7,1279.4"/>
<polygon points="1210.4,1264.1 1234.4,1249.1 1234.4,1279.1"/>
<polygon points="1236.1,1246.2 1260.1,1231.2 1260.1,1261.2"/>
<polygon points="1261.8,1086.6 1285.8,1071.6 1285.8,1101.6"/>
<polygon points="1287.6,898.8 1311.6,883.8 1311.6,913.8"/>
<polygon points="1313.3,794.2 1337.3,779.2 1337.3,809.2"/>
<polygon points="1339,752.4 1363,737.4 1363,767.4"/>
<polygon points="1364.7,729 1388.7,714 1388.7,744"/>
<polygon points="1390.4,714.6 1414.4,699.6 1414.4,729.6"/>
<polygon points="1416.1,706.8 1440.1,691.8 1440.1,721.8"/>
<polygon points="1441.8,699.9 1465.8,684.9 1465.8,714.9"/>
<polygon points="1467.5,693.7 1491.5,678.7 1491.5,708.7"/>
<polygon points="1493.2,687.6 1517.2,672.6 1517.2,702.6"/>
<polygon points="1519,682.3 1543,667.3 1543,697.3"/>
<polygon points="1544.7,677.8 1568.7,662.8 1568.7,692.8"/>
<polygon points="1570.4,674.6 1594.4,659.6 1594.4,689.6"/>
<polygon points="1596.1,671.6 1620.1,656.6 1620.1,686.6"/>
<polygon points="1621.8,668.4 1645.8,653.4 1645.8,683.4"/>
<polygon points="1647.5,665.5 1671.5,650.5 1671.5,680.5"/>
<polygon points="1673.2,663.1 1697.2,648.1 1697.2,678.1"/>
</g>
</g>
<path d="M1172.1,488.6H1663.2V877.3M1181.1,488.6V886.5" stroke="#6e6e6e" stroke-width="3.2" fill="none"/>
<path d="M1172.1,877.3H1664.8" stroke="#000" stroke-width="3.2" fill="none"/>
<path d="M1175.1,838.4H1181.1M1172.1,799.6H1181.1M1175.1,760.7H1181.1M1172.1,721.8H1181.1M1175.1,683H1181.1M1172.1,644.1H1181.1M1175.1,605.2H1181.1M1172.1,566.3H1181.1M1175.1,527.5H1181.1M1261.4,877.3V883.6M1341.8,877.3V886.5M1422.1,877.3V883.6M1502.5,877.3V886.5M1582.8,877.3V883.6M1663.2,877.3V886.5" stroke="#555" stroke-width="3.2" fill="none"/>
<g font-family="'Liberation Sans', Arial, Helvetica, sans-serif" font-weight="bold" font-size="40" text-anchor="end" fill="#000">
<text transform="translate(1166.6,889) scale(1,1.04)">50</text>
<text transform="translate(1166.6,811.3) scale(1,1.04)">60</text>
<text transform="translate(1166.6,733.5) scale(1,1.04)">70</text>
<text transform="translate(1166.6,655.8) scale(1,1.04)">80</text>
<text transform="translate(1166.6,578) scale(1,1.04)">90</text>
<text transform="translate(1166.6,500.3) scale(1,1.04)">100</text>
</g>
<g font-family="'Liberation Sans', Arial, Helvetica, sans-serif" font-weight="bold" font-size="40" text-anchor="middle" fill="#000">
<text transform="translate(1181.1,922) scale(1,1.04)">350</text>
<text transform="translate(1341.8,922) scale(1,1.04)">400</text>
<text transform="translate(1502.5,922) scale(1,1.04)">450</text>
<text transform="translate(1663.2,922) scale(1,1.04)">500</text>
</g>
</svg>
</body></html>
